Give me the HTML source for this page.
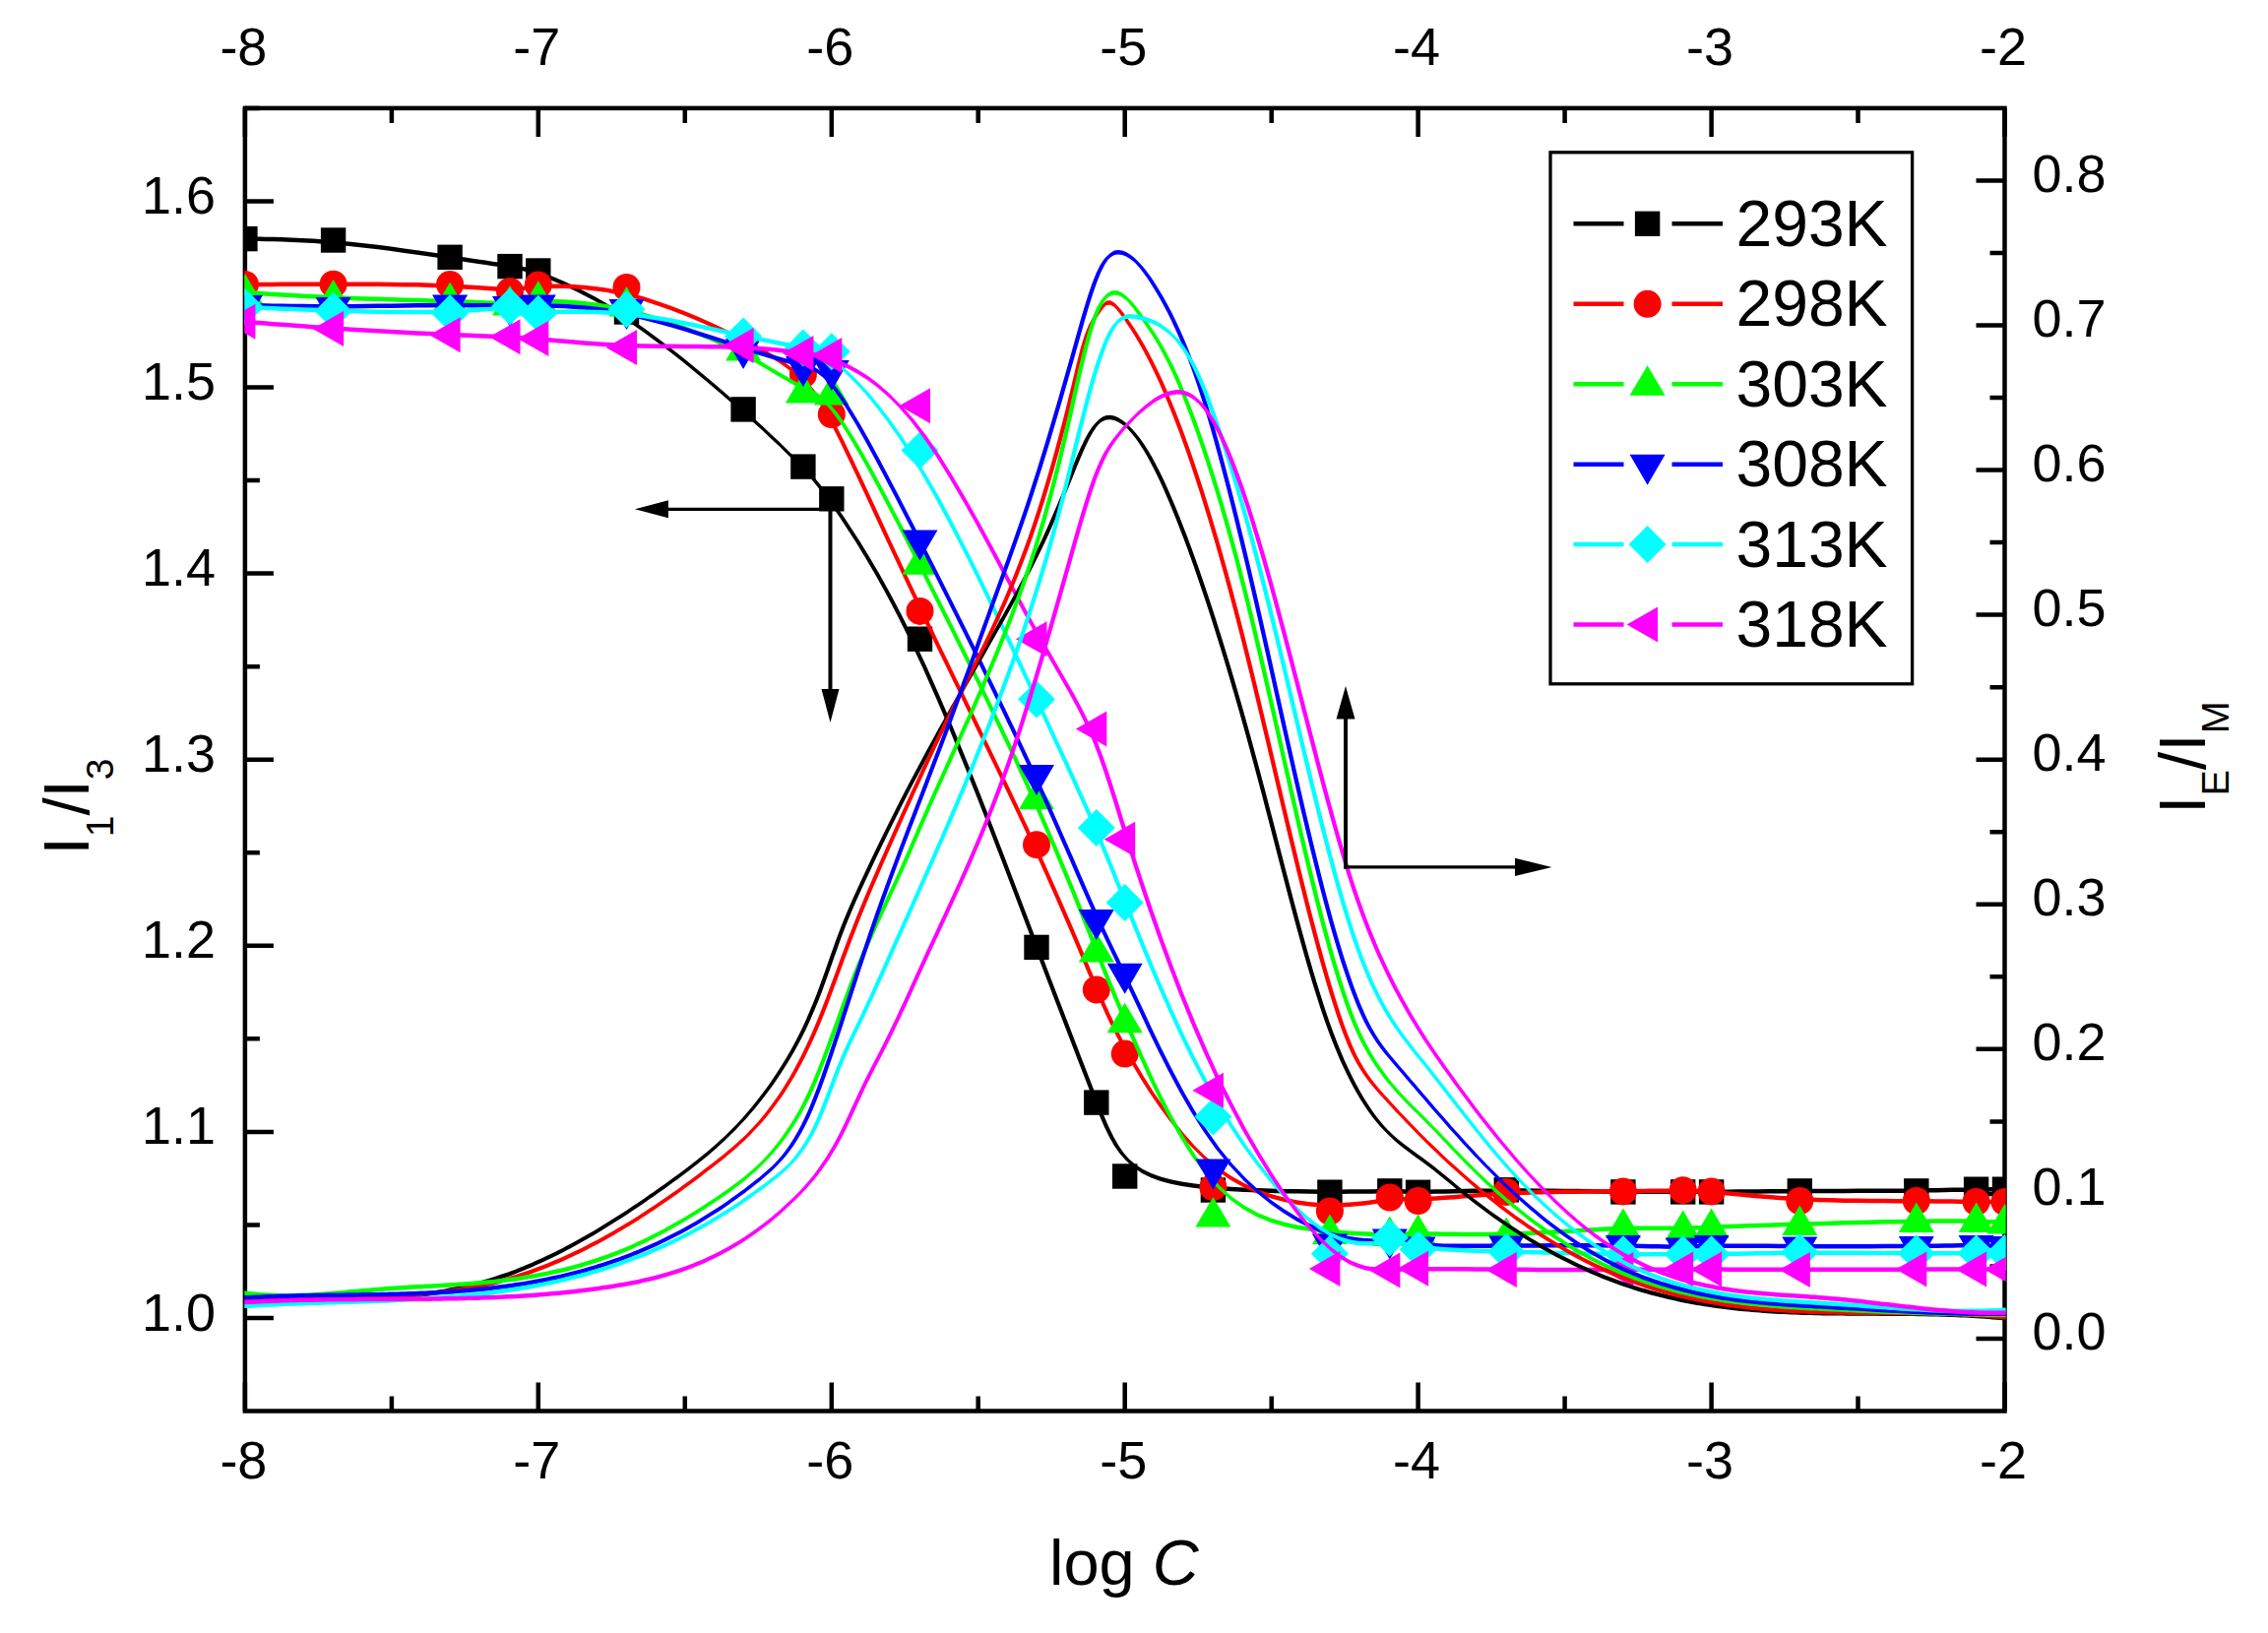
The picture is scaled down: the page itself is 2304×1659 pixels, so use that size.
<!DOCTYPE html>
<html lang="en"><head><meta charset="utf-8"><title>I1/I3 and IE/IM vs log C</title>
<style>html,body{margin:0;padding:0;background:#fff}svg{display:block}text{font-family:"Liberation Sans",sans-serif;fill:#000}</style></head><body>
<svg width="2304" height="1659" viewBox="0 0 2304 1659">
<rect width="2304" height="1659" fill="#fff"/>
<defs><clipPath id="pc"><rect x="248.3" y="109.9" width="1789.4" height="1323.6"/></clipPath></defs>
<path d="M248.9 109.9 v29 M248.9 1433.5 v-29 M397.9 109.9 v15 M397.9 1433.5 v-15 M546.8 109.9 v29 M546.8 1433.5 v-29 M695.8 109.9 v15 M695.8 1433.5 v-15 M844.8 109.9 v29 M844.8 1433.5 v-29 M993.7 109.9 v15 M993.7 1433.5 v-15 M1142.7 109.9 v29 M1142.7 1433.5 v-29 M1291.7 109.9 v15 M1291.7 1433.5 v-15 M1440.6 109.9 v29 M1440.6 1433.5 v-29 M1589.6 109.9 v15 M1589.6 1433.5 v-15 M1738.6 109.9 v29 M1738.6 1433.5 v-29 M1887.5 109.9 v15 M1887.5 1433.5 v-15 M2036.5 109.9 v29 M2036.5 1433.5 v-29 M248.9 1339 h29 M248.9 1244.4 h15 M248.9 1149.9 h29 M248.9 1055.3 h15 M248.9 960.8 h29 M248.9 866.2 h15 M248.9 771.7 h29 M248.9 677.2 h15 M248.9 582.6 h29 M248.9 488.1 h15 M248.9 393.5 h29 M248.9 299 h15 M248.9 204.4 h29 M248.9 109.9 h15 M2036.5 1360 h-29 M2036.5 1286.4 h-15 M2036.5 1212.9 h-29 M2036.5 1139.4 h-15 M2036.5 1065.8 h-29 M2036.5 992.3 h-15 M2036.5 918.8 h-29 M2036.5 845.2 h-15 M2036.5 771.7 h-29 M2036.5 698.2 h-15 M2036.5 624.6 h-29 M2036.5 551.1 h-15 M2036.5 477.6 h-29 M2036.5 404 h-15 M2036.5 330.5 h-29 M2036.5 257 h-15 M2036.5 183.4 h-29" stroke="#000" stroke-width="4.5" fill="none"/>
<rect x="248.9" y="109.9" width="1787.6" height="1323.6" stroke="#000" stroke-width="4.5" fill="none"/>
<g clip-path="url(#pc)" fill="none" stroke-linejoin="round" stroke-linecap="butt">
<path d="M248.9 240.3 248.9 240.4 249.1 240.4 249.7 240.4 250.8 240.4 252.5 240.4 255.2 240.4 258.9 240.5 263.8 240.6 270.1 240.7 277.7 240.8 286.4 241.1 296.2 241.4 306.9 241.9 318.4 242.5 330.6 243.4 343.4 244.4 356.6 245.7 370.1 247.2 383.7 248.8 397.3 250.6 410.6 252.4 423.5 254.2 435.9 256 447.5 257.7 458.3 259.3 468.2 260.8 477.3 262.2 485.7 263.4 493.3 264.6 500.4 265.7 506.8 266.6 512.6 267.5 518 268.4 523.1 269.2 528 270.1 533 271.2 538.2 272.6 543.8 274.3 550 276.4 557 279 564.8 282.2 573.6 286 583.2 290.5 593.5 295.7 604.6 301.6 616.3 308.3 628.6 315.9 641.3 324.2 654.5 333.5 668 343.4 681.6 353.8 695.2 364.5 708.5 375.4 721.5 386.2 733.8 396.8 745.5 406.9 756.2 416.4 766.1 425.3 775.3 433.6 783.6 441.4 791.3 448.6 798.3 455.4 804.7 461.7 810.6 467.6 810.6 472.1 804.7 466.2 798.3 459.9 791.3 453.1 783.6 445.9 775.3 438.1 766.1 429.8 756.2 420.9 745.5 411.4 733.8 401.3 721.5 390.7 708.5 379.9 695.2 369 681.6 358.3 668 347.9 654.5 338 641.3 328.7 628.6 320.4 616.3 312.8 604.6 306.1 593.5 300.2 583.2 295 573.6 290.5 564.8 286.7 557 283.5 550 280.9 543.8 278.8 538.2 277.1 533 275.7 528 274.6 523.1 273.7 518 272.9 512.6 272 506.8 271.1 500.4 270.2 493.3 269.1 485.7 267.9 477.3 266.7 468.2 265.3 458.3 263.8 447.5 262.2 435.9 260.5 423.5 258.7 410.6 256.9 397.3 255.1 383.7 253.3 370.1 251.7 356.6 250.2 343.4 248.9 330.6 247.9 318.4 247 306.9 246.4 296.2 245.9 286.4 245.6 277.7 245.3 270.1 245.2 263.8 245.1 258.9 245 255.2 244.9 252.5 244.9 250.8 244.9 249.7 244.9 249.1 244.9 248.9 244.9 248.9 244.8ZM800.5 457.7 807 464 812.8 469.9 818.2 475.4 823.3 480.8 828.2 486.3 833.2 492.2 838.4 498.8 844 506.3 850.2 515 857.2 525.1 865 536.9 873.8 550.6 883.4 566.2 893.7 583.8 904.8 603.7 916.5 625.9 928.7 650.5 941.5 677.7 954.7 707.4 968.2 739.1 981.8 772.2 995.4 806.1 1008.7 840.1 1021.6 873.6 1034 905.9 1045.6 936.5 1056.4 964.7 1066.3 990.7 1075.4 1014.5 1083.8 1036.3 1091.5 1056.2 1098.5 1074.4 1104.9 1091.1 1110.8 1106.3 1116.1 1120.2 1121.2 1132.8 1126.1 1144.3 1131.1 1154.6 1136.3 1163.7 1141.9 1171.8 1148.1 1178.8 1155.1 1184.8 1150.6 1184.8 1143.6 1178.8 1137.4 1171.8 1131.8 1163.7 1126.6 1154.6 1121.6 1144.3 1116.7 1132.8 1111.6 1120.2 1106.3 1106.3 1100.4 1091.1 1094 1074.4 1087 1056.2 1079.3 1036.3 1070.9 1014.5 1061.8 990.7 1051.9 964.7 1041.1 936.5 1029.5 905.9 1017.1 873.6 1004.2 840.1 990.9 806.1 977.3 772.2 963.7 739.1 950.2 707.4 937 677.7 924.2 650.5 912 625.9 900.3 603.7 889.2 583.8 878.9 566.2 869.3 550.6 860.5 536.9 852.7 525.1 845.7 515 839.5 506.3 833.9 498.8 828.7 492.2 823.7 486.3 818.8 480.8 813.7 475.4 808.3 469.9 802.5 464 796 457.7ZM1139.7 1169.5 1145.9 1176.6 1152.8 1182.6 1160.7 1187.7 1169.5 1191.9 1179.1 1195.4 1189.4 1198.2 1200.5 1200.5 1212.2 1202.3 1224.4 1203.7 1237.2 1204.8 1250.4 1205.7 1263.9 1206.5 1277.5 1207.1 1291.1 1207.5 1304.4 1207.9 1317.3 1208.1 1329.7 1208.3 1341.3 1208.4 1352.1 1208.4 1362 1208.4 1371.1 1208.3 1379.5 1208.3 1387.1 1208.2 1394.2 1208.2 1400.6 1208.1 1406.4 1208.1 1411.8 1208.1 1416.9 1208.2 1421.8 1208.3 1426.8 1208.3 1432 1208.4 1437.6 1208.4 1443.8 1208.4 1450.8 1208.4 1458.6 1208.3 1467.4 1208.2 1477 1208 1487.3 1207.8 1498.4 1207.6 1510.1 1207.5 1522.4 1207.4 1535.1 1207.3 1548.3 1207.3 1561.8 1207.4 1575.4 1207.5 1589 1207.7 1602.3 1207.8 1615.3 1208 1627.6 1208.2 1639.3 1208.3 1650 1208.4 1659.9 1208.5 1669.1 1208.6 1677.4 1208.6 1685.1 1208.6 1692.1 1208.6 1698.5 1208.6 1704.4 1208.6 1709.8 1208.6 1714.8 1208.6 1719.8 1208.6 1724.7 1208.6 1729.9 1208.6 1735.5 1208.6 1741.7 1208.5 1748.7 1208.5 1756.6 1208.4 1765.3 1208.3 1774.9 1208.2 1785.3 1208.2 1796.3 1208.1 1808 1208 1820.3 1207.9 1833.1 1207.8 1846.3 1207.8 1859.8 1207.7 1873.4 1207.7 1886.9 1207.6 1900.3 1207.6 1913.2 1207.5 1925.6 1207.5 1937.2 1207.4 1948 1207.2 1957.9 1207.1 1967 1207 1975.4 1206.8 1983 1206.6 1990 1206.5 1996.4 1206.4 2002.3 1206.2 2007.7 1206.1 2012.5 1206.1 2016.9 1206 2020.8 1206 2024.2 1206 2027.2 1206 2029.7 1206 2031.7 1206 2033.3 1206 2034.5 1206 2035.3 1206 2035.9 1206 2036.2 1206 2036.4 1205.9 2036.5 1205.9 2036.5 1206 2036.5 1210.5 2036.5 1210.4 2036.4 1210.4 2036.2 1210.5 2035.9 1210.5 2035.3 1210.5 2034.5 1210.5 2033.3 1210.5 2031.7 1210.5 2029.7 1210.5 2027.2 1210.5 2024.2 1210.5 2020.8 1210.5 2016.9 1210.5 2012.5 1210.6 2007.7 1210.6 2002.3 1210.7 1996.4 1210.9 1990 1211 1983 1211.1 1975.4 1211.3 1967 1211.5 1957.9 1211.6 1948 1211.7 1937.2 1211.9 1925.6 1212 1913.2 1212 1900.3 1212.1 1886.9 1212.1 1873.4 1212.2 1859.8 1212.2 1846.3 1212.3 1833.1 1212.3 1820.3 1212.4 1808 1212.5 1796.3 1212.6 1785.3 1212.7 1774.9 1212.7 1765.3 1212.8 1756.6 1212.9 1748.7 1213 1741.7 1213 1735.5 1213.1 1729.9 1213.1 1724.7 1213.1 1719.8 1213.1 1714.8 1213.1 1709.8 1213.1 1704.4 1213.1 1698.5 1213.1 1692.1 1213.1 1685.1 1213.1 1677.4 1213.1 1669.1 1213.1 1659.9 1213 1650 1212.9 1639.3 1212.8 1627.6 1212.7 1615.3 1212.5 1602.3 1212.3 1589 1212.2 1575.4 1212 1561.8 1211.9 1548.3 1211.8 1535.1 1211.8 1522.4 1211.9 1510.1 1212 1498.4 1212.1 1487.3 1212.3 1477 1212.5 1467.4 1212.7 1458.6 1212.8 1450.8 1212.9 1443.8 1212.9 1437.6 1212.9 1432 1212.9 1426.8 1212.8 1421.8 1212.8 1416.9 1212.7 1411.8 1212.6 1406.4 1212.6 1400.6 1212.6 1394.2 1212.7 1387.1 1212.7 1379.5 1212.8 1371.1 1212.8 1362 1212.9 1352.1 1212.9 1341.3 1212.9 1329.7 1212.8 1317.3 1212.6 1304.4 1212.4 1291.1 1212 1277.5 1211.6 1263.9 1211 1250.4 1210.2 1237.2 1209.3 1224.4 1208.2 1212.2 1206.8 1200.5 1205 1189.4 1202.7 1179.1 1199.9 1169.5 1196.4 1160.7 1192.2 1152.8 1187.1 1145.9 1181.1 1139.7 1174Z" fill="#000000" stroke="none"/>
<g stroke="none">
<rect x="236.2" y="229.9" width="25.4" height="25.4" fill="#000000"/>
<rect x="325.9" y="231.3" width="25.4" height="25.4" fill="#000000"/>
<rect x="444.4" y="248.6" width="25.4" height="25.4" fill="#000000"/>
<rect x="505.3" y="257.9" width="25.4" height="25.4" fill="#000000"/>
<rect x="534.1" y="262.3" width="25.4" height="25.4" fill="#000000"/>
<rect x="623.8" y="304.3" width="25.4" height="25.4" fill="#000000"/>
<rect x="742.4" y="403.2" width="25.4" height="25.4" fill="#000000"/>
<rect x="803.2" y="461.4" width="25.4" height="25.4" fill="#000000"/>
<rect x="832.1" y="494.1" width="25.4" height="25.4" fill="#000000"/>
<rect x="921.8" y="636.5" width="25.4" height="25.4" fill="#000000"/>
<rect x="1040.3" y="949.7" width="25.4" height="25.4" fill="#000000"/>
<rect x="1101.1" y="1107.4" width="25.4" height="25.4" fill="#000000"/>
<rect x="1130" y="1182.3" width="25.4" height="25.4" fill="#000000"/>
<rect x="1219.7" y="1196.3" width="25.4" height="25.4" fill="#000000"/>
<rect x="1338.2" y="1198.5" width="25.4" height="25.4" fill="#000000"/>
<rect x="1399.1" y="1197.2" width="25.4" height="25.4" fill="#000000"/>
<rect x="1427.9" y="1198.6" width="25.4" height="25.4" fill="#000000"/>
<rect x="1517.6" y="1196.1" width="25.4" height="25.4" fill="#000000"/>
<rect x="1636.2" y="1198.2" width="25.4" height="25.4" fill="#000000"/>
<rect x="1697" y="1198.2" width="25.4" height="25.4" fill="#000000"/>
<rect x="1725.9" y="1198.2" width="25.4" height="25.4" fill="#000000"/>
<rect x="1815.6" y="1197.2" width="25.4" height="25.4" fill="#000000"/>
<rect x="1934.1" y="1197.2" width="25.4" height="25.4" fill="#000000"/>
<rect x="1994.9" y="1195.5" width="25.4" height="25.4" fill="#000000"/>
<rect x="2023.8" y="1195.5" width="25.4" height="25.4" fill="#000000"/>
</g>
<path d="M248.9 286.8 248.9 286.7 249.1 286.7 249.7 286.7 250.8 286.7 252.5 286.7 255.2 286.7 258.9 286.7 263.8 286.7 270.1 286.7 277.7 286.7 286.4 286.6 296.2 286.6 306.9 286.6 318.4 286.6 330.6 286.6 343.4 286.5 356.6 286.6 370.1 286.6 383.7 286.6 397.3 286.8 410.6 286.9 423.5 287.1 435.9 287.5 447.5 287.9 458.3 288.4 468.2 288.9 477.3 289.5 485.7 290.1 493.3 290.6 500.4 291.1 506.8 291.4 512.6 291.5 518 291.4 523.1 291.2 528 290.8 533 290.4 538.2 289.9 543.8 289.5 550 289.1 557 288.8 564.8 288.6 573.6 288.6 583.2 289 593.5 289.7 604.6 290.9 616.3 292.6 628.6 294.9 641.3 297.8 654.5 301.5 668 305.9 681.6 310.7 695.2 316 708.5 321.5 721.5 327.2 733.8 332.9 745.5 338.5 756.2 343.9 766.1 349.2 775.3 354.2 783.6 359.2 791.3 364.1 798.3 369 804.7 373.8 810.6 378.7 816 383.6 821 388.9 821 393.4 816 388.1 810.6 383.2 804.7 378.3 798.3 373.5 791.3 368.6 783.6 363.7 775.3 358.7 766.1 353.7 756.2 348.4 745.5 343 733.8 337.4 721.5 331.7 708.5 326 695.2 320.5 681.6 315.2 668 310.4 654.5 306 641.3 302.3 628.6 299.4 616.3 297.1 604.6 295.4 593.5 294.2 583.2 293.5 573.6 293.1 564.8 293.1 557 293.2 550 293.6 543.8 294 538.2 294.4 533 294.9 528 295.3 523.1 295.7 518 295.9 512.6 296 506.8 295.9 500.4 295.6 493.3 295.1 485.7 294.6 477.3 294 468.2 293.4 458.3 292.9 447.5 292.4 435.9 292 423.5 291.6 410.6 291.4 397.3 291.3 383.7 291.1 370.1 291.1 356.6 291.1 343.4 291 330.6 291.1 318.4 291.1 306.9 291.1 296.2 291.1 286.4 291.1 277.7 291.2 270.1 291.2 263.8 291.2 258.9 291.2 255.2 291.2 252.5 291.2 250.8 291.2 249.7 291.2 249.1 291.2 248.9 291.2 248.9 291.2ZM812.8 380.9 818.2 385.9 823.3 391.2 828.2 397.2 833.2 404.1 838.4 412.3 844 422.1 850.2 433.7 857.2 447.5 865 463.8 873.8 482.3 883.4 502.8 893.7 525 904.8 548.9 916.5 574 928.7 600.1 941.5 627.1 954.7 654.7 968.2 682.6 981.8 710.6 995.4 738.5 1008.7 765.9 1021.6 792.6 1034 818.5 1045.6 843.2 1056.4 866.5 1066.3 888.5 1075.4 909 1083.8 928.2 1091.5 946.1 1098.5 962.6 1104.9 977.8 1110.8 991.7 1116.1 1004.4 1121.2 1016.1 1126.1 1027.1 1131.1 1037.8 1136.3 1048.3 1141.9 1059 1148.1 1070.3 1155.1 1082.3 1163 1095.4 1171.7 1109.2 1181.3 1123.3 1191.7 1137.5 1202.7 1151.4 1214.4 1164.7 1226.7 1176.8 1222.2 1176.8 1209.9 1164.7 1198.2 1151.4 1187.2 1137.5 1176.8 1123.3 1167.2 1109.2 1158.5 1095.4 1150.6 1082.3 1143.6 1070.3 1137.4 1059 1131.8 1048.3 1126.6 1037.8 1121.6 1027.1 1116.7 1016.1 1111.6 1004.4 1106.3 991.7 1100.4 977.8 1094 962.6 1087 946.1 1079.3 928.2 1070.9 909 1061.8 888.5 1051.9 866.5 1041.1 843.2 1029.5 818.5 1017.1 792.6 1004.2 765.9 990.9 738.5 977.3 710.6 963.7 682.6 950.2 654.7 937 627.1 924.2 600.1 912 574 900.3 548.9 889.2 525 878.9 502.8 869.3 482.3 860.5 463.8 852.7 447.5 845.7 433.7 839.5 422.1 833.9 412.3 828.7 404.1 823.7 397.2 818.8 391.2 813.7 385.9 808.3 380.9ZM1200.5 1149.2 1212.2 1162.4 1224.4 1174.6 1237.2 1185.4 1250.4 1194.5 1263.9 1202.1 1277.5 1208.2 1291.1 1213 1304.4 1216.6 1317.3 1219.2 1329.7 1220.9 1341.3 1221.9 1352.1 1222.2 1362 1222.1 1371.1 1221.6 1379.5 1220.8 1387.1 1219.9 1394.2 1218.9 1400.6 1217.9 1406.4 1217.2 1411.8 1216.6 1416.9 1216.3 1421.8 1216.2 1426.8 1216.1 1432 1216.1 1437.6 1216 1443.8 1215.9 1450.8 1215.6 1458.6 1215.2 1467.4 1214.6 1477 1213.9 1487.3 1213.1 1498.4 1212.3 1510.1 1211.5 1522.4 1210.7 1535.1 1210.1 1548.3 1209.5 1561.8 1209.1 1575.4 1208.8 1589 1208.6 1602.3 1208.4 1615.3 1208.2 1627.6 1208.1 1639.3 1208 1650 1207.9 1659.9 1207.8 1669.1 1207.7 1677.4 1207.6 1685.1 1207.5 1692.1 1207.4 1698.5 1207.4 1704.4 1207.3 1709.8 1207.4 1714.8 1207.4 1719.8 1207.6 1724.7 1207.8 1729.9 1208.1 1735.5 1208.4 1741.7 1208.9 1748.7 1209.5 1756.6 1210.3 1765.3 1211.1 1774.9 1212 1785.3 1212.9 1796.3 1213.8 1808 1214.7 1820.3 1215.5 1833.1 1216.1 1846.3 1216.7 1859.8 1217.1 1873.4 1217.4 1886.9 1217.6 1900.3 1217.7 1913.2 1217.8 1925.6 1217.9 1937.2 1217.9 1948 1218 1957.9 1218.1 1967 1218.2 1975.4 1218.2 1983 1218.3 1990 1218.4 1996.4 1218.5 2002.3 1218.6 2007.7 1218.6 2012.5 1218.7 2016.9 1218.7 2020.8 1218.7 2024.2 1218.7 2027.2 1218.7 2029.7 1218.7 2031.7 1218.8 2033.3 1218.8 2034.5 1218.8 2035.3 1218.8 2035.9 1218.8 2036.2 1218.8 2036.4 1218.8 2036.5 1218.8 2036.5 1218.8 2036.5 1223.2 2036.5 1223.2 2036.4 1223.2 2036.2 1223.2 2035.9 1223.2 2035.3 1223.2 2034.5 1223.2 2033.3 1223.2 2031.7 1223.2 2029.7 1223.2 2027.2 1223.2 2024.2 1223.2 2020.8 1223.2 2016.9 1223.2 2012.5 1223.2 2007.7 1223.1 2002.3 1223.1 1996.4 1223 1990 1222.9 1983 1222.8 1975.4 1222.8 1967 1222.7 1957.9 1222.6 1948 1222.5 1937.2 1222.4 1925.6 1222.4 1913.2 1222.3 1900.3 1222.2 1886.9 1222.1 1873.4 1221.9 1859.8 1221.6 1846.3 1221.2 1833.1 1220.6 1820.3 1220 1808 1219.2 1796.3 1218.3 1785.3 1217.4 1774.9 1216.5 1765.3 1215.6 1756.6 1214.8 1748.7 1214 1741.7 1213.4 1735.5 1212.9 1729.9 1212.6 1724.7 1212.3 1719.8 1212.1 1714.8 1211.9 1709.8 1211.9 1704.4 1211.8 1698.5 1211.9 1692.1 1211.9 1685.1 1212 1677.4 1212.1 1669.1 1212.2 1659.9 1212.3 1650 1212.4 1639.3 1212.5 1627.6 1212.6 1615.3 1212.7 1602.3 1212.9 1589 1213.1 1575.4 1213.3 1561.8 1213.6 1548.3 1214 1535.1 1214.6 1522.4 1215.2 1510.1 1216 1498.4 1216.8 1487.3 1217.6 1477 1218.4 1467.4 1219.1 1458.6 1219.7 1450.8 1220.1 1443.8 1220.4 1437.6 1220.5 1432 1220.6 1426.8 1220.6 1421.8 1220.7 1416.9 1220.8 1411.8 1221.1 1406.4 1221.7 1400.6 1222.4 1394.2 1223.4 1387.1 1224.4 1379.5 1225.3 1371.1 1226.1 1362 1226.6 1352.1 1226.7 1341.3 1226.4 1329.7 1225.4 1317.3 1223.7 1304.4 1221.1 1291.1 1217.5 1277.5 1212.7 1263.9 1206.6 1250.4 1199 1237.2 1189.9 1224.4 1179.1 1212.2 1166.9 1200.5 1153.7Z" fill="#ff0000" stroke="none"/>
<g stroke="none">
<circle cx="248.9" cy="289" r="14" fill="#ff0000"/>
<circle cx="338.6" cy="288.7" r="14" fill="#ff0000"/>
<circle cx="457.1" cy="289" r="14" fill="#ff0000"/>
<circle cx="518" cy="296" r="14" fill="#ff0000"/>
<circle cx="546.8" cy="289.5" r="14" fill="#ff0000"/>
<circle cx="636.5" cy="292" r="14" fill="#ff0000"/>
<circle cx="755.1" cy="343" r="14" fill="#ff0000"/>
<circle cx="815.9" cy="380.4" r="14" fill="#ff0000"/>
<circle cx="844.8" cy="421" r="14" fill="#ff0000"/>
<circle cx="934.5" cy="620.9" r="14" fill="#ff0000"/>
<circle cx="1053" cy="858.2" r="14" fill="#ff0000"/>
<circle cx="1113.8" cy="1005.4" r="14" fill="#ff0000"/>
<circle cx="1142.7" cy="1070.6" r="14" fill="#ff0000"/>
<circle cx="1232.4" cy="1206.2" r="14" fill="#ff0000"/>
<circle cx="1350.9" cy="1230.5" r="14" fill="#ff0000"/>
<circle cx="1411.8" cy="1216.5" r="14" fill="#ff0000"/>
<circle cx="1440.6" cy="1220" r="14" fill="#ff0000"/>
<circle cx="1530.3" cy="1210.9" r="14" fill="#ff0000"/>
<circle cx="1648.9" cy="1210.4" r="14" fill="#ff0000"/>
<circle cx="1709.7" cy="1209.2" r="14" fill="#ff0000"/>
<circle cx="1738.6" cy="1210.4" r="14" fill="#ff0000"/>
<circle cx="1828.3" cy="1220" r="14" fill="#ff0000"/>
<circle cx="1946.8" cy="1220" r="14" fill="#ff0000"/>
<circle cx="2007.6" cy="1221" r="14" fill="#ff0000"/>
<circle cx="2036.5" cy="1221" r="14" fill="#ff0000"/>
</g>
<path d="M248.9 294.8 248.9 294.8 249.1 294.8 249.7 294.8 250.8 294.9 252.5 295 255.2 295.2 258.9 295.4 263.8 295.8 270.1 296.2 277.7 296.7 286.4 297.2 296.2 297.8 306.9 298.4 318.4 299 330.6 299.6 343.4 300.2 356.6 300.7 370.1 301.2 383.7 301.6 397.3 302 410.6 302.4 423.5 302.8 435.9 303.2 447.5 303.5 458.3 303.9 468.2 304.3 477.3 304.6 485.7 304.9 493.3 305.2 500.4 305.4 506.8 305.4 512.6 305.4 518 305.3 523.1 305 528 304.8 533 304.4 538.2 304.2 543.8 303.9 550 303.8 557 303.8 564.8 303.9 573.6 304.3 583.2 305 593.5 305.9 604.6 307.3 616.3 309.1 628.6 311.4 641.3 314.3 654.5 317.8 668 321.8 681.6 326.2 695.2 331 708.5 336.1 721.5 341.5 733.8 346.9 745.5 352.4 756.2 357.9 766.1 363.3 775.3 368.4 783.6 373.4 791.3 377.9 798.3 382.1 804.7 385.8 810.6 388.9 816 391.5 821 393.8 826 396.3 830.9 399.4 836.1 403.6 841.7 409.1 847.9 416.5 847.9 421 841.7 413.6 836.1 408.1 830.9 403.9 826 400.8 821 398.3 816 396 810.6 393.4 804.7 390.3 798.3 386.6 791.3 382.4 783.6 377.9 775.3 372.9 766.1 367.8 756.2 362.4 745.5 356.9 733.8 351.4 721.5 346 708.5 340.6 695.2 335.5 681.6 330.7 668 326.3 654.5 322.3 641.3 318.8 628.6 315.9 616.3 313.6 604.6 311.8 593.5 310.4 583.2 309.5 573.6 308.8 564.8 308.4 557 308.3 550 308.3 543.8 308.4 538.2 308.7 533 308.9 528 309.3 523.1 309.5 518 309.8 512.6 309.9 506.8 309.9 500.4 309.9 493.3 309.7 485.7 309.4 477.3 309.1 468.2 308.8 458.3 308.4 447.5 308 435.9 307.7 423.5 307.3 410.6 306.9 397.3 306.5 383.7 306.1 370.1 305.7 356.6 305.2 343.4 304.7 330.6 304.1 318.4 303.5 306.9 302.9 296.2 302.3 286.4 301.7 277.7 301.2 270.1 300.7 263.8 300.2 258.9 299.9 255.2 299.7 252.5 299.5 250.8 299.4 249.7 299.3 249.1 299.3 248.9 299.3 248.9 299.2ZM838.4 405.8 844 411.4 850.2 418.8 857.2 428.4 865 440.6 873.8 455.2 883.4 472.1 893.7 491.1 904.8 511.9 916.5 534.3 928.7 558.2 941.5 583.3 954.7 609.5 968.2 636.3 981.8 663.7 995.4 691.1 1008.7 718.5 1021.6 745.4 1034 771.6 1045.6 796.9 1056.4 820.8 1066.3 843.5 1075.4 864.8 1083.8 884.9 1091.5 903.6 1098.5 921.1 1104.9 937.2 1110.8 952.1 1116.1 965.7 1121.2 978.4 1126.1 990.6 1131.1 1002.7 1136.3 1015.2 1141.9 1028.4 1148.1 1042.7 1155.1 1058.6 1163 1076.3 1171.7 1095.4 1181.3 1115.2 1191.7 1135.2 1202.7 1154.8 1214.4 1173.4 1226.7 1190.3 1239.4 1205 1252.7 1217.1 1248.2 1217.1 1234.9 1205 1222.2 1190.3 1209.9 1173.4 1198.2 1154.8 1187.2 1135.2 1176.8 1115.2 1167.2 1095.4 1158.5 1076.3 1150.6 1058.6 1143.6 1042.7 1137.4 1028.4 1131.8 1015.2 1126.6 1002.7 1121.6 990.6 1116.7 978.4 1111.6 965.7 1106.3 952.1 1100.4 937.2 1094 921.1 1087 903.6 1079.3 884.9 1070.9 864.8 1061.8 843.5 1051.9 820.8 1041.1 796.9 1029.5 771.6 1017.1 745.4 1004.2 718.5 990.9 691.1 977.3 663.7 963.7 636.3 950.2 609.5 937 583.3 924.2 558.2 912 534.3 900.3 511.9 889.2 491.1 878.9 472.1 869.3 455.2 860.5 440.6 852.7 428.4 845.7 418.8 839.5 411.4 833.9 405.8ZM1224.4 1188.1 1237.2 1202.8 1250.4 1214.9 1263.9 1224.5 1277.5 1231.9 1291.1 1237.5 1304.4 1241.5 1317.3 1244.4 1329.7 1246.3 1341.3 1247.7 1352.1 1248.9 1362 1249.7 1371.1 1250.4 1379.5 1250.9 1387.1 1251.3 1394.2 1251.5 1400.6 1251.6 1406.4 1251.7 1411.8 1251.7 1416.9 1251.6 1421.8 1251.5 1426.8 1251.4 1432 1251.3 1437.6 1251.2 1443.8 1251.1 1450.8 1251.2 1458.6 1251.3 1467.4 1251.4 1477 1251.5 1487.3 1251.7 1498.4 1251.7 1510.1 1251.7 1522.4 1251.6 1535.1 1251.3 1548.3 1250.8 1561.8 1250.2 1575.4 1249.5 1589 1248.7 1602.3 1248 1615.3 1247.2 1627.6 1246.6 1639.3 1246.1 1650 1245.7 1659.9 1245.5 1669.1 1245.4 1677.4 1245.4 1685.1 1245.4 1692.1 1245.5 1698.5 1245.6 1704.4 1245.6 1709.8 1245.6 1714.8 1245.5 1719.8 1245.3 1724.7 1245.1 1729.9 1244.9 1735.5 1244.7 1741.7 1244.4 1748.7 1244.1 1756.6 1243.8 1765.3 1243.4 1774.9 1243.1 1785.3 1242.7 1796.3 1242.4 1808 1242 1820.3 1241.6 1833.1 1241.2 1846.3 1240.9 1859.8 1240.5 1873.4 1240.1 1886.9 1239.8 1900.3 1239.4 1913.2 1239.1 1925.6 1238.9 1937.2 1238.7 1948 1238.5 1957.9 1238.4 1967 1238.3 1975.4 1238.2 1983 1238.2 1990 1238.3 1996.4 1238.3 2002.3 1238.4 2007.7 1238.5 2012.5 1238.7 2016.9 1238.8 2020.8 1239 2024.2 1239.1 2027.2 1239.2 2029.7 1239.4 2031.7 1239.5 2033.3 1239.6 2034.5 1239.6 2035.3 1239.7 2035.9 1239.7 2036.2 1239.7 2036.4 1239.7 2036.5 1239.7 2036.5 1239.8 2036.5 1244.2 2036.5 1244.2 2036.4 1244.2 2036.2 1244.2 2035.9 1244.2 2035.3 1244.2 2034.5 1244.1 2033.3 1244.1 2031.7 1244 2029.7 1243.9 2027.2 1243.7 2024.2 1243.6 2020.8 1243.5 2016.9 1243.3 2012.5 1243.2 2007.7 1243 2002.3 1242.9 1996.4 1242.8 1990 1242.8 1983 1242.7 1975.4 1242.7 1967 1242.8 1957.9 1242.9 1948 1243 1937.2 1243.2 1925.6 1243.4 1913.2 1243.6 1900.3 1243.9 1886.9 1244.3 1873.4 1244.6 1859.8 1245 1846.3 1245.4 1833.1 1245.7 1820.3 1246.1 1808 1246.5 1796.3 1246.9 1785.3 1247.2 1774.9 1247.6 1765.3 1247.9 1756.6 1248.3 1748.7 1248.6 1741.7 1248.9 1735.5 1249.2 1729.9 1249.4 1724.7 1249.6 1719.8 1249.8 1714.8 1250 1709.8 1250.1 1704.4 1250.1 1698.5 1250.1 1692.1 1250 1685.1 1249.9 1677.4 1249.9 1669.1 1249.9 1659.9 1250 1650 1250.2 1639.3 1250.6 1627.6 1251.1 1615.3 1251.7 1602.3 1252.5 1589 1253.2 1575.4 1254 1561.8 1254.7 1548.3 1255.3 1535.1 1255.8 1522.4 1256.1 1510.1 1256.2 1498.4 1256.2 1487.3 1256.2 1477 1256 1467.4 1255.9 1458.6 1255.8 1450.8 1255.7 1443.8 1255.6 1437.6 1255.7 1432 1255.8 1426.8 1255.9 1421.8 1256 1416.9 1256.1 1411.8 1256.2 1406.4 1256.2 1400.6 1256.1 1394.2 1256 1387.1 1255.8 1379.5 1255.4 1371.1 1254.9 1362 1254.2 1352.1 1253.4 1341.3 1252.2 1329.7 1250.8 1317.3 1248.9 1304.4 1246 1291.1 1242 1277.5 1236.4 1263.9 1229 1250.4 1219.4 1237.2 1207.3 1224.4 1192.6Z" fill="#00ff00" stroke="none"/>
<g stroke="none">
<polygon points="248.9,278 266.9,308.5 230.9,308.5" fill="#00ff00"/>
<polygon points="338.6,284 356.6,314.5 320.6,314.5" fill="#00ff00"/>
<polygon points="457.1,286.7 475.1,317.2 439.1,317.2" fill="#00ff00"/>
<polygon points="518,290 536,320.5 500,320.5" fill="#00ff00"/>
<polygon points="546.8,285.3 564.8,315.8 528.8,315.8" fill="#00ff00"/>
<polygon points="636.5,291 654.5,321.5 618.5,321.5" fill="#00ff00"/>
<polygon points="755.1,336 773.1,366.5 737.1,366.5" fill="#00ff00"/>
<polygon points="815.9,379 833.9,409.5 797.9,409.5" fill="#00ff00"/>
<polygon points="844.8,381 862.8,411.5 826.8,411.5" fill="#00ff00"/>
<polygon points="934.5,553.3 952.5,583.8 916.5,583.8" fill="#00ff00"/>
<polygon points="1053,791.7 1071,822.2 1035,822.2" fill="#00ff00"/>
<polygon points="1113.8,947 1131.8,977.5 1095.8,977.5" fill="#00ff00"/>
<polygon points="1142.7,1018.7 1160.7,1049.2 1124.7,1049.2" fill="#00ff00"/>
<polygon points="1232.4,1216 1250.4,1246.5 1214.4,1246.5" fill="#00ff00"/>
<polygon points="1350.9,1233.6 1368.9,1264.1 1332.9,1264.1" fill="#00ff00"/>
<polygon points="1411.8,1235.6 1429.8,1266.1 1393.8,1266.1" fill="#00ff00"/>
<polygon points="1440.6,1233.6 1458.6,1264.1 1422.6,1264.1" fill="#00ff00"/>
<polygon points="1530.3,1236.5 1548.3,1267 1512.3,1267" fill="#00ff00"/>
<polygon points="1648.9,1227.5 1666.9,1258 1630.9,1258" fill="#00ff00"/>
<polygon points="1709.7,1229.5 1727.7,1260 1691.7,1260" fill="#00ff00"/>
<polygon points="1738.6,1227.5 1756.6,1258 1720.6,1258" fill="#00ff00"/>
<polygon points="1828.3,1224.5 1846.3,1255 1810.3,1255" fill="#00ff00"/>
<polygon points="1946.8,1221.4 1964.8,1251.9 1928.8,1251.9" fill="#00ff00"/>
<polygon points="2007.6,1221.4 2025.6,1251.9 1989.6,1251.9" fill="#00ff00"/>
<polygon points="2036.5,1223 2054.5,1253.5 2018.5,1253.5" fill="#00ff00"/>
</g>
<path d="M248.9 307.8 248.9 307.8 249.1 307.8 249.7 307.8 250.8 307.8 252.5 307.8 255.2 307.9 258.9 308 263.8 308.1 270.1 308.2 277.7 308.4 286.4 308.5 296.2 308.7 306.9 308.8 318.4 308.9 330.6 309 343.4 309 356.6 308.9 370.1 308.8 383.7 308.6 397.3 308.4 410.6 308.3 423.5 308.1 435.9 307.9 447.5 307.8 458.3 307.8 468.2 307.8 477.3 307.9 485.7 308 493.3 308.1 500.4 308.1 506.8 308.2 512.6 308.2 518 308.2 523.1 308.1 528 308.1 533 308 538.2 308 543.8 308 550 308 557 308.2 564.8 308.4 573.6 308.8 583.2 309.4 593.5 310.3 604.6 311.5 616.3 313.1 628.6 315.1 641.3 317.6 654.5 320.7 668 324.2 681.6 328 695.2 332 708.5 336.2 721.5 340.3 733.8 344.3 745.5 348.1 756.2 351.5 766.1 354.7 775.3 357.5 783.6 360 791.3 362.2 798.3 364.2 804.7 365.9 810.6 367.4 816 368.7 821 370.2 826 372.2 830.9 375 836.1 379 841.7 384.6 847.9 392 847.9 396.5 841.7 389.1 836.1 383.5 830.9 379.5 826 376.7 821 374.7 816 373.2 810.6 371.9 804.7 370.4 798.3 368.7 791.3 366.7 783.6 364.5 775.3 362 766.1 359.2 756.2 356 745.5 352.6 733.8 348.8 721.5 344.8 708.5 340.7 695.2 336.5 681.6 332.5 668 328.7 654.5 325.2 641.3 322.1 628.6 319.6 616.3 317.6 604.6 316 593.5 314.8 583.2 313.9 573.6 313.3 564.8 312.9 557 312.7 550 312.5 543.8 312.5 538.2 312.5 533 312.5 528 312.6 523.1 312.6 518 312.7 512.6 312.7 506.8 312.7 500.4 312.6 493.3 312.6 485.7 312.5 477.3 312.4 468.2 312.3 458.3 312.3 447.5 312.3 435.9 312.4 423.5 312.6 410.6 312.8 397.3 312.9 383.7 313.1 370.1 313.3 356.6 313.4 343.4 313.5 330.6 313.5 318.4 313.4 306.9 313.3 296.2 313.2 286.4 313 277.7 312.9 270.1 312.7 263.8 312.6 258.9 312.5 255.2 312.4 252.5 312.3 250.8 312.3 249.7 312.3 249.1 312.3 248.9 312.3 248.9 312.2ZM838.4 381.2 844 386.8 850.2 394.3 857.2 404.1 865 416.4 873.8 431.1 883.4 448.1 893.7 467.1 904.8 487.9 916.5 510.4 928.7 534.3 941.5 559.4 954.7 585.6 968.2 612.5 981.8 639.8 995.4 667.2 1008.7 694.4 1021.6 721.1 1034 747 1045.6 771.7 1056.4 795.1 1066.3 817.1 1075.4 837.6 1083.8 856.7 1091.5 874.3 1098.5 890.5 1104.9 905.3 1110.8 918.6 1116.1 930.6 1121.2 941.6 1126.1 952 1131.1 962.4 1136.3 973.2 1141.9 984.9 1148.1 997.9 1155.1 1012.7 1163 1029.6 1171.7 1048.2 1181.3 1068 1191.7 1088.5 1202.7 1109.2 1214.4 1129.5 1226.7 1149 1239.4 1167 1252.7 1183.2 1266.2 1197.6 1279.8 1210.3 1275.3 1210.3 1261.7 1197.6 1248.2 1183.2 1234.9 1167 1222.2 1149 1209.9 1129.5 1198.2 1109.2 1187.2 1088.5 1176.8 1068 1167.2 1048.2 1158.5 1029.6 1150.6 1012.7 1143.6 997.9 1137.4 984.9 1131.8 973.2 1126.6 962.4 1121.6 952 1116.7 941.6 1111.6 930.6 1106.3 918.6 1100.4 905.3 1094 890.5 1087 874.3 1079.3 856.7 1070.9 837.6 1061.8 817.1 1051.9 795.1 1041.1 771.7 1029.5 747 1017.1 721.1 1004.2 694.4 990.9 667.2 977.3 639.8 963.7 612.5 950.2 585.6 937 559.4 924.2 534.3 912 510.4 900.3 487.9 889.2 467.1 878.9 448.1 869.3 431.1 860.5 416.4 852.7 404.1 845.7 394.3 839.5 386.8 833.9 381.2ZM1250.4 1181 1263.9 1195.4 1277.5 1208 1291.1 1219 1304.4 1228.3 1317.3 1236.2 1329.7 1242.6 1341.3 1247.7 1352.1 1251.5 1362 1254.3 1371.1 1256.1 1379.5 1257.3 1387.1 1257.9 1394.2 1258.2 1400.6 1258.3 1406.4 1258.4 1411.8 1258.7 1416.9 1259.1 1421.8 1259.7 1426.8 1260.3 1432 1261 1437.6 1261.7 1443.8 1262.2 1450.8 1262.8 1458.6 1263.1 1467.4 1263.4 1477 1263.5 1487.3 1263.6 1498.4 1263.6 1510.1 1263.5 1522.4 1263.4 1535.1 1263.3 1548.3 1263.2 1561.8 1263.2 1575.4 1263.1 1589 1263.1 1602.3 1263.1 1615.3 1263.1 1627.6 1263.1 1639.3 1263.2 1650 1263.4 1659.9 1263.6 1669.1 1263.8 1677.4 1264 1685.1 1264.1 1692.1 1264.3 1698.5 1264.4 1704.4 1264.4 1709.8 1264.4 1714.8 1264.3 1719.8 1264.1 1724.7 1264 1729.9 1263.8 1735.5 1263.6 1741.7 1263.5 1748.7 1263.4 1756.6 1263.4 1765.3 1263.4 1774.9 1263.5 1785.3 1263.5 1796.3 1263.6 1808 1263.7 1820.3 1263.8 1833.1 1263.9 1846.3 1264 1859.8 1264 1873.4 1264 1886.9 1263.9 1900.3 1263.9 1913.2 1263.8 1925.6 1263.8 1937.2 1263.7 1948 1263.6 1957.9 1263.5 1967 1263.4 1975.4 1263.3 1983 1263.2 1990 1263.1 1996.4 1263.1 2002.3 1263.1 2007.7 1263.1 2012.5 1263.1 2016.9 1263.2 2020.8 1263.3 2024.2 1263.4 2027.2 1263.4 2029.7 1263.5 2031.7 1263.6 2033.3 1263.6 2034.5 1263.7 2035.3 1263.7 2035.9 1263.7 2036.2 1263.7 2036.4 1263.7 2036.5 1263.7 2036.5 1263.8 2036.5 1268.2 2036.5 1268.2 2036.4 1268.2 2036.2 1268.2 2035.9 1268.2 2035.3 1268.2 2034.5 1268.2 2033.3 1268.1 2031.7 1268.1 2029.7 1268 2027.2 1267.9 2024.2 1267.9 2020.8 1267.8 2016.9 1267.7 2012.5 1267.6 2007.7 1267.6 2002.3 1267.6 1996.4 1267.6 1990 1267.6 1983 1267.7 1975.4 1267.8 1967 1267.9 1957.9 1268 1948 1268.1 1937.2 1268.2 1925.6 1268.3 1913.2 1268.3 1900.3 1268.4 1886.9 1268.4 1873.4 1268.5 1859.8 1268.5 1846.3 1268.5 1833.1 1268.4 1820.3 1268.3 1808 1268.2 1796.3 1268.1 1785.3 1268 1774.9 1268 1765.3 1267.9 1756.6 1267.9 1748.7 1267.9 1741.7 1268 1735.5 1268.1 1729.9 1268.3 1724.7 1268.5 1719.8 1268.6 1714.8 1268.8 1709.8 1268.9 1704.4 1268.9 1698.5 1268.9 1692.1 1268.8 1685.1 1268.6 1677.4 1268.5 1669.1 1268.3 1659.9 1268.1 1650 1267.9 1639.3 1267.8 1627.6 1267.6 1615.3 1267.6 1602.3 1267.6 1589 1267.6 1575.4 1267.6 1561.8 1267.7 1548.3 1267.7 1535.1 1267.8 1522.4 1267.9 1510.1 1268 1498.4 1268.1 1487.3 1268.1 1477 1268 1467.4 1267.9 1458.6 1267.6 1450.8 1267.2 1443.8 1266.7 1437.6 1266.2 1432 1265.5 1426.8 1264.8 1421.8 1264.2 1416.9 1263.6 1411.8 1263.2 1406.4 1262.9 1400.6 1262.8 1394.2 1262.7 1387.1 1262.4 1379.5 1261.8 1371.1 1260.6 1362 1258.8 1352.1 1256 1341.3 1252.2 1329.7 1247.1 1317.3 1240.7 1304.4 1232.8 1291.1 1223.5 1277.5 1212.5 1263.9 1199.9 1250.4 1185.5Z" fill="#0000ff" stroke="none"/>
<g stroke="none">
<polygon points="248.9,331 266.9,300 230.9,300" fill="#0000ff"/>
<polygon points="338.6,333 356.6,302 320.6,302" fill="#0000ff"/>
<polygon points="457.1,330.4 475.1,299.4 439.1,299.4" fill="#0000ff"/>
<polygon points="518,332 536,301 500,301" fill="#0000ff"/>
<polygon points="546.8,330.4 564.8,299.4 528.8,299.4" fill="#0000ff"/>
<polygon points="636.5,335 654.5,304 618.5,304" fill="#0000ff"/>
<polygon points="755.1,375 773.1,344 737.1,344" fill="#0000ff"/>
<polygon points="815.9,393 833.9,362 797.9,362" fill="#0000ff"/>
<polygon points="844.8,397 862.8,366 826.8,366" fill="#0000ff"/>
<polygon points="934.5,569.4 952.5,538.4 916.5,538.4" fill="#0000ff"/>
<polygon points="1053,808 1071,777 1035,777" fill="#0000ff"/>
<polygon points="1113.8,955 1131.8,924 1095.8,924" fill="#0000ff"/>
<polygon points="1142.7,1009.7 1160.7,978.7 1124.7,978.7" fill="#0000ff"/>
<polygon points="1232.4,1208.5 1250.4,1177.5 1214.4,1177.5" fill="#0000ff"/>
<polygon points="1350.9,1284.4 1368.9,1253.4 1332.9,1253.4" fill="#0000ff"/>
<polygon points="1411.8,1279.5 1429.8,1248.5 1393.8,1248.5" fill="#0000ff"/>
<polygon points="1440.6,1287.5 1458.6,1256.5 1422.6,1256.5" fill="#0000ff"/>
<polygon points="1530.3,1286.5 1548.3,1255.5 1512.3,1255.5" fill="#0000ff"/>
<polygon points="1648.9,1286 1666.9,1255 1630.9,1255" fill="#0000ff"/>
<polygon points="1709.7,1288.5 1727.7,1257.5 1691.7,1257.5" fill="#0000ff"/>
<polygon points="1738.6,1286 1756.6,1255 1720.6,1255" fill="#0000ff"/>
<polygon points="1828.3,1287.5 1846.3,1256.5 1810.3,1256.5" fill="#0000ff"/>
<polygon points="1946.8,1287 1964.8,1256 1928.8,1256" fill="#0000ff"/>
<polygon points="2007.6,1286 2025.6,1255 1989.6,1255" fill="#0000ff"/>
<polygon points="2036.5,1287 2054.5,1256 2018.5,1256" fill="#0000ff"/>
</g>
<path d="M248.9 309.8 248.9 309.8 249.1 309.8 249.7 309.8 250.8 309.8 252.5 309.9 255.2 310 258.9 310.2 263.8 310.4 270.1 310.7 277.7 311 286.4 311.4 296.2 311.8 306.9 312.2 318.4 312.6 330.6 313.1 343.4 313.5 356.6 313.8 370.1 314.2 383.7 314.5 397.3 314.7 410.6 314.8 423.5 314.8 435.9 314.7 447.5 314.5 458.3 314.1 468.2 313.7 477.3 313.1 485.7 312.6 493.3 312.1 500.4 311.7 506.8 311.5 512.6 311.4 518 311.5 523.1 311.8 528 312.3 533 312.8 538.2 313.3 543.8 313.8 550 314.2 557 314.4 564.8 314.6 573.6 314.6 583.2 314.6 593.5 314.6 604.6 314.8 616.3 315.3 628.6 316.1 641.3 317.2 654.5 318.9 668 321 681.6 323.3 695.2 325.9 708.5 328.7 721.5 331.4 733.8 334.2 745.5 336.7 756.2 339.1 766.1 341.2 775.3 343.1 783.6 344.8 791.3 346.3 798.3 347.7 804.7 348.9 810.6 350 816 350.9 821 351.9 826 353.2 830.9 355 836.1 357.5 841.7 360.9 847.9 365.4 854.9 371.1 862.8 378.4 871.5 387.3 871.5 391.8 862.8 382.9 854.9 375.6 847.9 369.9 841.7 365.4 836.1 362 830.9 359.5 826 357.7 821 356.4 816 355.4 810.6 354.5 804.7 353.4 798.3 352.2 791.3 350.8 783.6 349.3 775.3 347.6 766.1 345.7 756.2 343.6 745.5 341.2 733.8 338.7 721.5 335.9 708.5 333.2 695.2 330.4 681.6 327.8 668 325.5 654.5 323.4 641.3 321.8 628.6 320.6 616.3 319.8 604.6 319.3 593.5 319.1 583.2 319.1 573.6 319.1 564.8 319.1 557 318.9 550 318.7 543.8 318.3 538.2 317.8 533 317.3 528 316.8 523.1 316.3 518 316 512.6 315.9 506.8 316 500.4 316.2 493.3 316.6 485.7 317.1 477.3 317.6 468.2 318.2 458.3 318.6 447.5 319 435.9 319.2 423.5 319.3 410.6 319.3 397.3 319.2 383.7 319 370.1 318.7 356.6 318.3 343.4 318 330.6 317.6 318.4 317.1 306.9 316.7 296.2 316.3 286.4 315.9 277.7 315.5 270.1 315.2 263.8 314.9 258.9 314.7 255.2 314.5 252.5 314.4 250.8 314.3 249.7 314.3 249.1 314.3 248.9 314.3 248.9 314.2ZM857.2 373.4 865 380.6 873.8 389.5 883.4 400.1 893.7 412.6 904.8 427 916.5 443.4 928.7 462.1 941.5 483 954.7 506.1 968.2 531.2 981.8 557.5 995.4 584.6 1008.7 612 1021.6 639 1034 665.2 1045.6 690.1 1056.4 713.1 1066.3 734.3 1075.4 753.9 1083.8 772 1091.5 788.7 1098.5 804.2 1104.9 818.5 1110.8 831.8 1116.1 844.4 1121.2 856.5 1126.1 868.5 1131.1 880.8 1136.3 893.7 1141.9 907.8 1148.1 923.3 1155.1 940.6 1163 959.9 1171.7 981.1 1181.3 1003.6 1191.7 1027.1 1202.7 1051 1214.4 1075 1226.7 1098.6 1239.4 1121.4 1252.7 1143.1 1266.2 1163.4 1279.8 1182.1 1293.3 1199.2 1306.6 1214.5 1319.6 1227.8 1331.9 1238.9 1327.4 1238.9 1315.1 1227.8 1302.1 1214.5 1288.8 1199.2 1275.3 1182.1 1261.7 1163.4 1248.2 1143.1 1234.9 1121.4 1222.2 1098.6 1209.9 1075 1198.2 1051 1187.2 1027.1 1176.8 1003.6 1167.2 981.1 1158.5 959.9 1150.6 940.6 1143.6 923.3 1137.4 907.8 1131.8 893.7 1126.6 880.8 1121.6 868.5 1116.7 856.5 1111.6 844.4 1106.3 831.8 1100.4 818.5 1094 804.2 1087 788.7 1079.3 772 1070.9 753.9 1061.8 734.3 1051.9 713.1 1041.1 690.1 1029.5 665.2 1017.1 639 1004.2 612 990.9 584.6 977.3 557.5 963.7 531.2 950.2 506.1 937 483 924.2 462.1 912 443.4 900.3 427 889.2 412.6 878.9 400.1 869.3 389.5 860.5 380.6 852.7 373.4ZM1304.4 1212.2 1317.3 1225.5 1329.7 1236.7 1341.3 1245.5 1352.1 1252.1 1362 1256.5 1371.1 1259.3 1379.5 1260.7 1387.1 1261.1 1394.2 1260.9 1400.6 1260.4 1406.4 1259.9 1411.8 1259.8 1416.9 1260.1 1421.8 1260.7 1426.8 1261.5 1432 1262.5 1437.6 1263.5 1443.8 1264.5 1450.8 1265.5 1458.6 1266.3 1467.4 1267 1477 1267.6 1487.3 1268.1 1498.4 1268.5 1510.1 1268.8 1522.4 1269.2 1535.1 1269.5 1548.3 1269.8 1561.8 1270.1 1575.4 1270.4 1589 1270.7 1602.3 1271 1615.3 1271.2 1627.6 1271.4 1639.3 1271.6 1650 1271.8 1659.9 1271.9 1669.1 1271.9 1677.4 1272 1685.1 1272 1692.1 1272 1698.5 1272 1704.4 1272 1709.8 1272 1714.8 1272 1719.8 1272 1724.7 1272 1729.9 1272 1735.5 1271.9 1741.7 1271.8 1748.7 1271.7 1756.6 1271.6 1765.3 1271.4 1774.9 1271.2 1785.3 1271.1 1796.3 1270.9 1808 1270.8 1820.3 1270.6 1833.1 1270.5 1846.3 1270.5 1859.8 1270.5 1873.4 1270.5 1886.9 1270.6 1900.3 1270.7 1913.2 1270.7 1925.6 1270.8 1937.2 1270.9 1948 1270.9 1957.9 1271 1967 1271 1975.4 1271 1983 1271 1990 1271 1996.4 1271 2002.3 1271 2007.7 1271 2012.5 1271 2016.9 1270.9 2020.8 1270.9 2024.2 1270.9 2027.2 1270.8 2029.7 1270.8 2031.7 1270.8 2033.3 1270.8 2034.5 1270.8 2035.3 1270.8 2035.9 1270.8 2036.2 1270.8 2036.4 1270.8 2036.5 1270.8 2036.5 1270.8 2036.5 1275.2 2036.5 1275.3 2036.4 1275.3 2036.2 1275.3 2035.9 1275.3 2035.3 1275.3 2034.5 1275.3 2033.3 1275.3 2031.7 1275.3 2029.7 1275.3 2027.2 1275.3 2024.2 1275.4 2020.8 1275.4 2016.9 1275.4 2012.5 1275.5 2007.7 1275.5 2002.3 1275.5 1996.4 1275.5 1990 1275.5 1983 1275.5 1975.4 1275.5 1967 1275.5 1957.9 1275.5 1948 1275.4 1937.2 1275.4 1925.6 1275.3 1913.2 1275.2 1900.3 1275.2 1886.9 1275.1 1873.4 1275 1859.8 1275 1846.3 1275 1833.1 1275 1820.3 1275.1 1808 1275.3 1796.3 1275.4 1785.3 1275.6 1774.9 1275.7 1765.3 1275.9 1756.6 1276.1 1748.7 1276.2 1741.7 1276.3 1735.5 1276.4 1729.9 1276.5 1724.7 1276.5 1719.8 1276.5 1714.8 1276.5 1709.8 1276.5 1704.4 1276.5 1698.5 1276.5 1692.1 1276.5 1685.1 1276.5 1677.4 1276.5 1669.1 1276.4 1659.9 1276.4 1650 1276.3 1639.3 1276.1 1627.6 1275.9 1615.3 1275.7 1602.3 1275.5 1589 1275.2 1575.4 1274.9 1561.8 1274.6 1548.3 1274.3 1535.1 1274 1522.4 1273.7 1510.1 1273.3 1498.4 1273 1487.3 1272.6 1477 1272.1 1467.4 1271.5 1458.6 1270.8 1450.8 1270 1443.8 1269 1437.6 1268 1432 1267 1426.8 1266 1421.8 1265.2 1416.9 1264.6 1411.8 1264.3 1406.4 1264.4 1400.6 1264.9 1394.2 1265.4 1387.1 1265.6 1379.5 1265.2 1371.1 1263.8 1362 1261 1352.1 1256.6 1341.3 1250 1329.7 1241.2 1317.3 1230 1304.4 1216.7Z" fill="#00ffff" stroke="none"/>
<g stroke="none">
<polygon points="248.9,293 267.9,312 248.9,331 229.9,312" fill="#00ffff"/>
<polygon points="338.6,297 357.6,316 338.6,335 319.6,316" fill="#00ffff"/>
<polygon points="457.1,299.3 476.1,318.3 457.1,337.3 438.1,318.3" fill="#00ffff"/>
<polygon points="518,292.2 537,311.2 518,330.2 499,311.2" fill="#00ffff"/>
<polygon points="546.8,299.7 565.8,318.7 546.8,337.7 527.8,318.7" fill="#00ffff"/>
<polygon points="636.5,295.2 655.5,314.2 636.5,333.2 617.5,314.2" fill="#00ffff"/>
<polygon points="755.1,322.5 774.1,341.5 755.1,360.5 736.1,341.5" fill="#00ffff"/>
<polygon points="815.9,334.6 834.9,353.6 815.9,372.6 796.9,353.6" fill="#00ffff"/>
<polygon points="844.8,338.3 863.8,357.3 844.8,376.3 825.8,357.3" fill="#00ffff"/>
<polygon points="934.5,438.5 953.5,457.5 934.5,476.5 915.5,457.5" fill="#00ffff"/>
<polygon points="1053,691.5 1072,710.5 1053,729.5 1034,710.5" fill="#00ffff"/>
<polygon points="1113.8,821.9 1132.8,840.9 1113.8,859.9 1094.8,840.9" fill="#00ffff"/>
<polygon points="1142.7,898 1161.7,917 1142.7,936 1123.7,917" fill="#00ffff"/>
<polygon points="1232.4,1115.5 1251.4,1134.5 1232.4,1153.5 1213.4,1134.5" fill="#00ffff"/>
<polygon points="1350.9,1254.7 1369.9,1273.7 1350.9,1292.7 1331.9,1273.7" fill="#00ffff"/>
<polygon points="1411.8,1238.5 1430.8,1257.5 1411.8,1276.5 1392.8,1257.5" fill="#00ffff"/>
<polygon points="1440.6,1250.3 1459.6,1269.3 1440.6,1288.3 1421.6,1269.3" fill="#00ffff"/>
<polygon points="1530.3,1252.7 1549.3,1271.7 1530.3,1290.7 1511.3,1271.7" fill="#00ffff"/>
<polygon points="1648.9,1255.3 1667.9,1274.3 1648.9,1293.3 1629.9,1274.3" fill="#00ffff"/>
<polygon points="1709.7,1255.3 1728.7,1274.3 1709.7,1293.3 1690.7,1274.3" fill="#00ffff"/>
<polygon points="1738.6,1255.3 1757.6,1274.3 1738.6,1293.3 1719.6,1274.3" fill="#00ffff"/>
<polygon points="1828.3,1253.3 1847.3,1272.3 1828.3,1291.3 1809.3,1272.3" fill="#00ffff"/>
<polygon points="1946.8,1254.3 1965.8,1273.3 1946.8,1292.3 1927.8,1273.3" fill="#00ffff"/>
<polygon points="2007.6,1254.3 2026.6,1273.3 2007.6,1292.3 1988.6,1273.3" fill="#00ffff"/>
<polygon points="2036.5,1254 2055.5,1273 2036.5,1292 2017.5,1273" fill="#00ffff"/>
</g>
<path d="M248.9 324.6 248.9 324.6 249.1 324.6 249.7 324.6 250.8 324.7 252.5 324.8 255.2 325.1 258.9 325.4 263.8 325.8 270.1 326.3 277.7 326.9 286.4 327.5 296.2 328.3 306.9 329.1 318.4 329.9 330.6 330.8 343.4 331.6 356.6 332.4 370.1 333.3 383.7 334 397.3 334.8 410.6 335.5 423.5 336.2 435.9 336.8 447.5 337.3 458.3 337.8 468.2 338.2 477.3 338.6 485.7 338.9 493.3 339.2 500.4 339.5 506.8 339.7 512.6 339.9 518 340.2 523.1 340.4 528 340.7 533 341 538.2 341.4 543.8 341.8 550 342.3 557 342.9 564.8 343.7 573.6 344.5 583.2 345.3 593.5 346.2 604.6 347 616.3 347.7 628.6 348.4 641.3 348.9 654.5 349.3 668 349.5 681.6 349.6 695.2 349.7 708.5 349.8 721.5 349.9 733.8 350.1 745.5 350.4 756.2 350.9 766.1 351.4 775.3 352.1 783.6 352.8 791.3 353.6 798.3 354.4 804.7 355.1 810.6 355.8 816 356.3 821 357 826 357.7 830.9 358.7 836.1 360 841.7 361.7 847.9 364 854.9 367 862.8 370.7 871.5 375.5 881.1 381.6 891.5 389.3 902.5 398.8 914.2 410.4 926.5 424.4 926.5 428.9 914.2 414.9 902.5 403.3 891.5 393.8 881.1 386.1 871.5 380 862.8 375.2 854.9 371.5 847.9 368.5 841.7 366.2 836.1 364.5 830.9 363.2 826 362.2 821 361.5 816 360.8 810.6 360.2 804.7 359.6 798.3 358.9 791.3 358.1 783.6 357.3 775.3 356.6 766.1 355.9 756.2 355.4 745.5 354.9 733.8 354.6 721.5 354.4 708.5 354.3 695.2 354.2 681.6 354.1 668 354 654.5 353.8 641.3 353.4 628.6 352.9 616.3 352.2 604.6 351.5 593.5 350.7 583.2 349.8 573.6 349 564.8 348.2 557 347.4 550 346.8 543.8 346.3 538.2 345.9 533 345.5 528 345.2 523.1 344.9 518 344.7 512.6 344.4 506.8 344.2 500.4 344 493.3 343.7 485.7 343.4 477.3 343.1 468.2 342.7 458.3 342.3 447.5 341.8 435.9 341.3 423.5 340.7 410.6 340 397.3 339.3 383.7 338.5 370.1 337.8 356.6 336.9 343.4 336.1 330.6 335.3 318.4 334.4 306.9 333.6 296.2 332.8 286.4 332 277.7 331.4 270.1 330.8 263.8 330.3 258.9 329.9 255.2 329.6 252.5 329.3 250.8 329.2 249.7 329.1 249.1 329.1 248.9 329.1 248.9 329.1ZM904.8 401 916.5 412.7 928.7 426.6 941.5 443.2 954.7 462.6 968.2 484.2 981.8 507.4 995.4 531.6 1008.7 556.1 1021.6 580.2 1034 603.4 1045.6 624.9 1056.4 644.4 1066.3 661.8 1075.4 677.7 1083.8 692.3 1091.5 705.8 1098.5 718.8 1104.9 731.4 1110.8 744 1116.1 756.9 1121.2 770.4 1126.1 784.7 1131.1 800 1136.3 816.6 1141.9 834.8 1148.1 854.6 1155.1 876.5 1163 900.5 1171.7 926.3 1181.3 953.5 1191.7 981.7 1202.7 1010.4 1214.4 1039.2 1226.7 1067.7 1239.4 1095.5 1252.7 1122.1 1266.2 1147.4 1279.8 1171.1 1293.3 1193.1 1306.6 1213 1319.6 1230.8 1331.9 1246.2 1343.6 1259 1354.3 1269 1349.8 1269 1339.1 1259 1327.4 1246.2 1315.1 1230.8 1302.1 1213 1288.8 1193.1 1275.3 1171.1 1261.7 1147.4 1248.2 1122.1 1234.9 1095.5 1222.2 1067.7 1209.9 1039.2 1198.2 1010.4 1187.2 981.7 1176.8 953.5 1167.2 926.3 1158.5 900.5 1150.6 876.5 1143.6 854.6 1137.4 834.8 1131.8 816.6 1126.6 800 1121.6 784.7 1116.7 770.4 1111.6 756.9 1106.3 744 1100.4 731.4 1094 718.8 1087 705.8 1079.3 692.3 1070.9 677.7 1061.8 661.8 1051.9 644.4 1041.1 624.9 1029.5 603.4 1017.1 580.2 1004.2 556.1 990.9 531.6 977.3 507.4 963.7 484.2 950.2 462.6 937 443.2 924.2 426.6 912 412.7 900.3 401ZM1329.7 1243.9 1341.3 1256.7 1352.1 1266.8 1362 1274.4 1371.1 1279.9 1379.5 1283.6 1387.1 1285.9 1394.2 1287.1 1400.6 1287.5 1406.4 1287.6 1411.8 1287.6 1416.9 1287.5 1421.8 1287.4 1426.8 1287.3 1432 1287.2 1437.6 1287.1 1443.8 1287 1450.8 1287 1458.6 1286.9 1467.4 1287 1477 1287 1487.3 1287.1 1498.4 1287.2 1510.1 1287.3 1522.4 1287.4 1535.1 1287.5 1548.3 1287.6 1561.8 1287.7 1575.4 1287.7 1589 1287.7 1602.3 1287.7 1615.3 1287.7 1627.6 1287.7 1639.3 1287.7 1650 1287.6 1659.9 1287.6 1669.1 1287.5 1677.4 1287.5 1685.1 1287.5 1692.1 1287.4 1698.5 1287.4 1704.4 1287.3 1709.8 1287.3 1714.8 1287.3 1719.8 1287.3 1724.7 1287.3 1729.9 1287.3 1735.5 1287.3 1741.7 1287.3 1748.7 1287.3 1756.6 1287.4 1765.3 1287.4 1774.9 1287.4 1785.3 1287.5 1796.3 1287.5 1808 1287.6 1820.3 1287.6 1833.1 1287.6 1846.3 1287.6 1859.8 1287.6 1873.4 1287.5 1886.9 1287.5 1900.3 1287.4 1913.2 1287.4 1925.6 1287.4 1937.2 1287.3 1948 1287.3 1957.9 1287.3 1967 1287.3 1975.4 1287.3 1983 1287.3 1990 1287.3 1996.4 1287.3 2002.3 1287.2 2007.7 1287.2 2012.5 1287.2 2016.9 1287.2 2020.8 1287.3 2024.2 1287.3 2027.2 1287.2 2029.7 1287.2 2031.7 1287.2 2033.3 1287.2 2034.5 1287.2 2035.3 1287.2 2035.9 1287.3 2036.2 1287.3 2036.4 1287.2 2036.5 1287.2 2036.5 1287.2 2036.5 1291.8 2036.5 1291.7 2036.4 1291.8 2036.2 1291.8 2035.9 1291.8 2035.3 1291.8 2034.5 1291.8 2033.3 1291.7 2031.7 1291.8 2029.7 1291.7 2027.2 1291.8 2024.2 1291.8 2020.8 1291.8 2016.9 1291.8 2012.5 1291.8 2007.7 1291.7 2002.3 1291.8 1996.4 1291.8 1990 1291.8 1983 1291.8 1975.4 1291.8 1967 1291.8 1957.9 1291.8 1948 1291.8 1937.2 1291.8 1925.6 1291.9 1913.2 1291.9 1900.3 1291.9 1886.9 1292 1873.4 1292 1859.8 1292.1 1846.3 1292.1 1833.1 1292.1 1820.3 1292.1 1808 1292.1 1796.3 1292 1785.3 1292 1774.9 1291.9 1765.3 1291.9 1756.6 1291.9 1748.7 1291.8 1741.7 1291.8 1735.5 1291.8 1729.9 1291.8 1724.7 1291.8 1719.8 1291.8 1714.8 1291.8 1709.8 1291.8 1704.4 1291.8 1698.5 1291.9 1692.1 1291.9 1685.1 1292 1677.4 1292 1669.1 1292 1659.9 1292.1 1650 1292.1 1639.3 1292.2 1627.6 1292.2 1615.3 1292.2 1602.3 1292.2 1589 1292.2 1575.4 1292.2 1561.8 1292.2 1548.3 1292.1 1535.1 1292 1522.4 1291.9 1510.1 1291.8 1498.4 1291.7 1487.3 1291.6 1477 1291.5 1467.4 1291.5 1458.6 1291.4 1450.8 1291.5 1443.8 1291.5 1437.6 1291.6 1432 1291.7 1426.8 1291.8 1421.8 1291.9 1416.9 1292 1411.8 1292.1 1406.4 1292.1 1400.6 1292 1394.2 1291.6 1387.1 1290.4 1379.5 1288.1 1371.1 1284.4 1362 1278.9 1352.1 1271.3 1341.3 1261.2 1329.7 1248.4Z" fill="#ff00ff" stroke="none"/>
<g stroke="none">
<polygon points="227.9,326.8 259.4,308.8 259.4,344.8" fill="#ff00ff"/>
<polygon points="317.6,334 349.1,316 349.1,352" fill="#ff00ff"/>
<polygon points="436.1,340.3 467.6,322.3 467.6,358.3" fill="#ff00ff"/>
<polygon points="497,342.2 528.5,324.2 528.5,360.2" fill="#ff00ff"/>
<polygon points="525.8,344 557.3,326 557.3,362" fill="#ff00ff"/>
<polygon points="615.5,353 647,335 647,371" fill="#ff00ff"/>
<polygon points="734.1,351 765.6,333 765.6,369" fill="#ff00ff"/>
<polygon points="794.9,359 826.4,341 826.4,377" fill="#ff00ff"/>
<polygon points="823.8,361 855.3,343 855.3,379" fill="#ff00ff"/>
<polygon points="913.5,412.3 945,394.3 945,430.3" fill="#ff00ff"/>
<polygon points="1032,649.2 1063.5,631.2 1063.5,667.2" fill="#ff00ff"/>
<polygon points="1092.8,740.5 1124.3,722.5 1124.3,758.5" fill="#ff00ff"/>
<polygon points="1121.7,852.7 1153.2,834.7 1153.2,870.7" fill="#ff00ff"/>
<polygon points="1211.4,1107.8 1242.9,1089.8 1242.9,1125.8" fill="#ff00ff"/>
<polygon points="1329.9,1288.9 1361.4,1270.9 1361.4,1306.9" fill="#ff00ff"/>
<polygon points="1390.8,1290.4 1422.3,1272.4 1422.3,1308.4" fill="#ff00ff"/>
<polygon points="1419.6,1288.7 1451.1,1270.7 1451.1,1306.7" fill="#ff00ff"/>
<polygon points="1509.3,1290 1540.8,1272 1540.8,1308" fill="#ff00ff"/>
<polygon points="1627.9,1290 1659.4,1272 1659.4,1308" fill="#ff00ff"/>
<polygon points="1688.7,1289.5 1720.2,1271.5 1720.2,1307.5" fill="#ff00ff"/>
<polygon points="1717.6,1289.5 1749.1,1271.5 1749.1,1307.5" fill="#ff00ff"/>
<polygon points="1807.3,1290 1838.8,1272 1838.8,1308" fill="#ff00ff"/>
<polygon points="1925.8,1289.5 1957.3,1271.5 1957.3,1307.5" fill="#ff00ff"/>
<polygon points="1986.6,1289.5 2018.1,1271.5 2018.1,1307.5" fill="#ff00ff"/>
<polygon points="2015.5,1289.5 2047,1271.5 2047,1307.5" fill="#ff00ff"/>
</g>
<path d="M248 1320.3 252 1320.3 256 1320.2 260 1320.1 264 1320.1 268 1320 272 1320 276 1319.9 280 1319.9 284 1319.9 288 1319.8 292 1319.8 296 1319.8 300 1319.7 304 1319.7 308 1319.7 312 1319.6 316 1319.6 320 1319.6 324 1319.5 328 1319.4 332 1319.4 336 1319.3 340 1319.2 344 1319.1 348 1319 352 1318.9 356 1318.8 360 1318.6 364 1318.5 368 1318.3 372 1318.1 376 1317.9 380 1317.7 384 1317.4 388 1317.2 392 1316.9 396 1316.6 400 1316.2 404 1315.9 408 1315.5 412 1315.1 416 1314.6 420 1314.2 424 1313.7 428 1313.2 432 1312.6 436 1312 440 1311.4 444 1310.8 448 1310.1 452 1309.4 456 1308.6 460 1307.8 464 1307 468 1306.1 472 1305.2 476 1304.3 480 1303.3 484 1302.2 488 1301.2 492 1300 496 1298.9 500 1297.7 504 1296.4 508 1295.1 512 1293.8 516 1292.4 520 1290.9 524 1289.4 528 1287.8 532 1286.2 536 1284.6 540 1282.9 544 1281.1 548 1279.3 552 1277.5 556 1275.6 560 1273.7 564 1271.7 568 1269.7 572 1267.7 576 1265.6 580 1263.5 584 1261.3 588 1259.1 592 1256.8 596 1254.5 600 1252.2 604 1249.9 608 1247.5 612 1245.1 616 1242.6 620 1240.1 624 1237.6 628 1235.1 632 1232.5 636 1229.9 640 1227.2 644 1224.6 648 1221.9 652 1219.2 656 1216.4 660 1213.6 664 1210.9 668 1208 672 1205.2 676 1202.4 680 1199.5 684 1196.6 688 1193.7 692 1190.7 696 1187.7 700 1184.7 704 1181.6 708 1178.5 712 1175.3 716 1172.1 720 1168.7 724 1165.3 728 1161.8 732 1158.1 736 1154.4 740 1150.6 744 1146.6 748 1142.5 748 1147 744 1151.1 740 1155.1 736 1158.9 732 1162.6 728 1166.3 724 1169.8 720 1173.2 716 1176.6 712 1179.8 708 1183 704 1186.1 700 1189.2 696 1192.2 692 1195.2 688 1198.2 684 1201.1 680 1204 676 1206.9 672 1209.7 668 1212.5 664 1215.4 660 1218.1 656 1220.9 652 1223.7 648 1226.4 644 1229.1 640 1231.7 636 1234.4 632 1237 628 1239.6 624 1242.1 620 1244.6 616 1247.1 612 1249.6 608 1252 604 1254.4 600 1256.7 596 1259 592 1261.3 588 1263.6 584 1265.8 580 1268 576 1270.1 572 1272.2 568 1274.2 564 1276.2 560 1278.2 556 1280.1 552 1282 548 1283.8 544 1285.6 540 1287.4 536 1289.1 532 1290.7 528 1292.3 524 1293.9 520 1295.4 516 1296.9 512 1298.3 508 1299.6 504 1300.9 500 1302.2 496 1303.4 492 1304.5 488 1305.7 484 1306.7 480 1307.8 476 1308.8 472 1309.7 468 1310.6 464 1311.5 460 1312.3 456 1313.1 452 1313.9 448 1314.6 444 1315.3 440 1315.9 436 1316.5 432 1317.1 428 1317.7 424 1318.2 420 1318.7 416 1319.1 412 1319.6 408 1320 404 1320.4 400 1320.7 396 1321.1 392 1321.4 388 1321.7 384 1321.9 380 1322.2 376 1322.4 372 1322.6 368 1322.8 364 1323 360 1323.1 356 1323.3 352 1323.4 348 1323.5 344 1323.6 340 1323.7 336 1323.8 332 1323.9 328 1323.9 324 1324 320 1324.1 316 1324.1 312 1324.1 308 1324.2 304 1324.2 300 1324.2 296 1324.3 292 1324.3 288 1324.3 284 1324.4 280 1324.4 276 1324.4 272 1324.5 268 1324.5 264 1324.6 260 1324.6 256 1324.7 252 1324.8 248 1324.8ZM737.8 1152.8 741.8 1148.9 745.8 1144.8 749.8 1140.5 753.8 1136.2 757.8 1131.6 761.8 1126.9 765.8 1122.1 769.8 1117.1 773.8 1111.8 777.8 1106.5 781.8 1100.9 785.8 1095.1 789.8 1089.1 793.8 1082.8 797.8 1076.3 801.8 1069.5 805.8 1062.3 809.8 1054.7 813.8 1046.7 817.8 1038.2 821.8 1029.1 825.8 1019.6 829.8 1009.4 833.8 998.6 837.8 987.4 841.8 976 845.8 964.7 849.8 953.6 853.8 943 857.8 933 861.8 923.4 865.8 914.2 869.8 905.4 873.8 896.7 877.8 888.2 881.8 879.7 885.8 871.3 889.8 863 893.8 854.7 897.8 846.5 901.8 838.4 905.8 830.4 909.8 822.4 913.8 814.6 917.8 806.8 921.8 799.1 925.8 791.4 929.8 783.9 933.8 776.4 937.8 768.9 941.8 761.5 945.8 754.2 949.8 746.9 953.8 739.6 957.8 732.4 961.8 725.3 965.8 718.1 969.8 711 973.8 703.9 977.8 696.8 981.8 689.8 985.8 682.7 989.8 675.7 993.8 668.7 997.8 661.7 1001.8 654.6 1005.8 647.6 1009.8 640.5 1013.8 633.5 1017.8 626.4 1021.8 619.2 1025.8 612 1029.8 604.7 1033.8 597.2 1037.8 589.7 1041.8 582 1045.8 574.1 1049.8 566.1 1053.8 557.8 1057.8 549.4 1061.8 540.7 1065.8 531.8 1069.8 522.6 1073.8 513.2 1077.8 503.5 1081.8 493.5 1085.8 483.5 1089.8 473.5 1093.8 463.9 1097.8 454.8 1101.8 446.5 1105.8 439.2 1109.8 433.2 1113.8 428.8 1117.8 425.9 1122.2 425.9 1118.2 428.8 1114.2 433.2 1110.2 439.2 1106.2 446.5 1102.2 454.8 1098.2 463.9 1094.2 473.5 1090.2 483.5 1086.2 493.5 1082.2 503.5 1078.2 513.2 1074.2 522.6 1070.2 531.8 1066.2 540.7 1062.2 549.4 1058.2 557.8 1054.2 566.1 1050.2 574.1 1046.2 582 1042.2 589.7 1038.2 597.2 1034.2 604.7 1030.2 612 1026.2 619.2 1022.2 626.4 1018.2 633.5 1014.2 640.5 1010.2 647.6 1006.2 654.6 1002.2 661.7 998.2 668.7 994.2 675.7 990.2 682.7 986.2 689.8 982.2 696.8 978.2 703.9 974.2 711 970.2 718.1 966.2 725.3 962.2 732.4 958.2 739.6 954.2 746.9 950.2 754.2 946.2 761.5 942.2 768.9 938.2 776.4 934.2 783.9 930.2 791.4 926.2 799.1 922.2 806.8 918.2 814.6 914.2 822.4 910.2 830.4 906.2 838.4 902.2 846.5 898.2 854.7 894.2 863 890.2 871.3 886.2 879.7 882.2 888.2 878.2 896.7 874.2 905.4 870.2 914.2 866.2 923.4 862.2 933 858.2 943 854.2 953.6 850.2 964.7 846.2 976 842.2 987.4 838.2 998.6 834.2 1009.4 830.2 1019.6 826.2 1029.1 822.2 1038.2 818.2 1046.7 814.2 1054.7 810.2 1062.3 806.2 1069.5 802.2 1076.3 798.2 1082.8 794.2 1089.1 790.2 1095.1 786.2 1100.9 782.2 1106.5 778.2 1111.8 774.2 1117.1 770.2 1122.1 766.2 1126.9 762.2 1131.6 758.2 1136.2 754.2 1140.5 750.2 1144.8 746.2 1148.9 742.2 1152.8ZM1112 431 1116 426.5 1120 423.6 1124 422.1 1128 421.8 1132 422.6 1136 424.3 1140 426.7 1144 429.8 1148 433.7 1152 438.1 1152 442.6 1148 438.2 1144 434.3 1140 431.2 1136 428.8 1132 427.1 1128 426.3 1124 426.6 1120 428.1 1116 431 1112 435.5ZM1146.2 432.1 1150.2 435.9 1154.2 440.4 1158.2 445.5 1162.2 451.2 1166.2 457.5 1170.2 464.3 1174.2 471.7 1178.2 479.5 1182.2 487.8 1186.2 496.5 1190.2 505.7 1194.2 515.2 1198.2 525 1202.2 535.2 1206.2 545.6 1210.2 556.3 1214.2 567.3 1218.2 578.6 1222.2 590.2 1226.2 601.9 1230.2 614 1234.2 626.3 1238.2 638.9 1242.2 651.7 1246.2 664.7 1250.2 678 1254.2 691.5 1258.2 705.2 1262.2 719.1 1266.2 733.3 1270.2 747.6 1274.2 762.2 1278.2 777 1282.2 791.9 1286.2 807.1 1290.2 822.4 1294.2 837.8 1298.2 853.3 1302.2 868.8 1306.2 884.2 1310.2 899.6 1314.2 914.8 1318.2 929.8 1322.2 944.6 1326.2 959.1 1330.2 973.2 1334.2 987 1338.2 1000.3 1342.2 1013.1 1346.2 1025.4 1350.2 1037.2 1354.2 1048.2 1358.2 1058.7 1362.2 1068.6 1366.2 1077.9 1370.2 1086.6 1374.2 1094.8 1378.2 1102.6 1382.2 1109.8 1386.2 1116.5 1390.2 1122.8 1394.2 1128.7 1398.2 1134.2 1402.2 1139.2 1406.2 1143.9 1410.2 1148.2 1414.2 1152.2 1409.8 1152.2 1405.8 1148.2 1401.8 1143.9 1397.8 1139.2 1393.8 1134.2 1389.8 1128.7 1385.8 1122.8 1381.8 1116.5 1377.8 1109.8 1373.8 1102.6 1369.8 1094.8 1365.8 1086.6 1361.8 1077.9 1357.8 1068.6 1353.8 1058.7 1349.8 1048.2 1345.8 1037.2 1341.8 1025.4 1337.8 1013.1 1333.8 1000.3 1329.8 987 1325.8 973.2 1321.8 959.1 1317.8 944.6 1313.8 929.8 1309.8 914.8 1305.8 899.6 1301.8 884.2 1297.8 868.8 1293.8 853.3 1289.8 837.8 1285.8 822.4 1281.8 807.1 1277.8 791.9 1273.8 777 1269.8 762.2 1265.8 747.6 1261.8 733.3 1257.8 719.1 1253.8 705.2 1249.8 691.5 1245.8 678 1241.8 664.7 1237.8 651.7 1233.8 638.9 1229.8 626.3 1225.8 614 1221.8 601.9 1217.8 590.2 1213.8 578.6 1209.8 567.3 1205.8 556.3 1201.8 545.6 1197.8 535.2 1193.8 525 1189.8 515.2 1185.8 505.7 1181.8 496.5 1177.8 487.8 1173.8 479.5 1169.8 471.7 1165.8 464.3 1161.8 457.5 1157.8 451.2 1153.8 445.5 1149.8 440.4 1145.8 435.9 1141.8 432.1ZM1404 1141.7 1408 1146 1412 1150 1416 1153.7 1420 1157.2 1424 1160.4 1428 1163.6 1432 1166.6 1436 1169.5 1440 1172.4 1444 1175.2 1448 1178.2 1452 1181.2 1456 1184.3 1460 1187.5 1464 1190.7 1468 1194 1472 1197.3 1476 1200.6 1480 1203.9 1484 1207.2 1488 1210.4 1492 1213.6 1496 1216.7 1500 1219.8 1504 1222.8 1508 1225.8 1512 1228.8 1516 1231.7 1520 1234.5 1524 1237.3 1528 1240.1 1532 1242.8 1536 1245.5 1540 1248.1 1544 1250.7 1548 1253.2 1552 1255.7 1556 1258.2 1560 1260.6 1564 1262.9 1568 1265.2 1572 1267.5 1576 1269.7 1580 1271.9 1584 1274 1588 1276.1 1592 1278.1 1596 1280.1 1600 1282.1 1604 1284 1608 1285.8 1612 1287.6 1616 1289.4 1620 1291.1 1624 1292.8 1628 1294.4 1632 1296 1636 1297.6 1640 1299.1 1644 1300.5 1648 1301.9 1652 1303.3 1656 1304.6 1660 1305.9 1664 1307.2 1668 1308.4 1672 1309.5 1676 1310.7 1680 1311.8 1684 1312.8 1688 1313.8 1692 1314.8 1696 1315.7 1700 1316.6 1704 1317.5 1708 1318.4 1712 1319.2 1716 1319.9 1720 1320.7 1724 1321.4 1728 1322.1 1732 1322.7 1736 1323.3 1740 1323.9 1744 1324.5 1748 1325 1752 1325.6 1756 1326 1760 1326.5 1764 1327 1768 1327.4 1772 1327.8 1776 1328.1 1780 1328.5 1784 1328.8 1788 1329.1 1792 1329.4 1796 1329.7 1800 1329.9 1804 1330.2 1808 1330.4 1812 1330.6 1816 1330.8 1820 1330.9 1824 1331.1 1828 1331.2 1832 1331.4 1836 1331.5 1840 1331.6 1844 1331.7 1848 1331.8 1852 1331.9 1856 1331.9 1860 1332 1864 1332 1868 1332.1 1872 1332.1 1876 1332.2 1880 1332.2 1884 1332.2 1888 1332.2 1892 1332.3 1896 1332.3 1900 1332.3 1904 1332.3 1908 1332.3 1912 1332.4 1916 1332.4 1920 1332.4 1924 1332.4 1928 1332.5 1932 1332.5 1936 1332.5 1940 1332.6 1944 1332.6 1948 1332.7 1952 1332.7 1956 1332.8 1960 1332.9 1964 1333 1968 1333.1 1972 1333.2 1976 1333.3 1980 1333.4 1984 1333.6 1988 1333.7 1992 1333.9 1996 1334.1 2000 1334.3 2004 1334.5 2008 1334.8 2012 1335 2016 1335.3 2020 1335.6 2024 1335.9 2028 1336.2 2032 1336.6 2036 1337 2038 1337 2038 1341.5 2036 1341.5 2032 1341.1 2028 1340.7 2024 1340.4 2020 1340.1 2016 1339.8 2012 1339.5 2008 1339.3 2004 1339 2000 1338.8 1996 1338.6 1992 1338.4 1988 1338.2 1984 1338.1 1980 1337.9 1976 1337.8 1972 1337.7 1968 1337.6 1964 1337.5 1960 1337.4 1956 1337.3 1952 1337.2 1948 1337.2 1944 1337.1 1940 1337.1 1936 1337 1932 1337 1928 1337 1924 1336.9 1920 1336.9 1916 1336.9 1912 1336.9 1908 1336.8 1904 1336.8 1900 1336.8 1896 1336.8 1892 1336.8 1888 1336.7 1884 1336.7 1880 1336.7 1876 1336.7 1872 1336.6 1868 1336.6 1864 1336.5 1860 1336.5 1856 1336.4 1852 1336.4 1848 1336.3 1844 1336.2 1840 1336.1 1836 1336 1832 1335.9 1828 1335.7 1824 1335.6 1820 1335.4 1816 1335.3 1812 1335.1 1808 1334.9 1804 1334.7 1800 1334.4 1796 1334.2 1792 1333.9 1788 1333.6 1784 1333.3 1780 1333 1776 1332.6 1772 1332.3 1768 1331.9 1764 1331.5 1760 1331 1756 1330.5 1752 1330.1 1748 1329.5 1744 1329 1740 1328.4 1736 1327.8 1732 1327.2 1728 1326.6 1724 1325.9 1720 1325.2 1716 1324.4 1712 1323.7 1708 1322.9 1704 1322 1700 1321.1 1696 1320.2 1692 1319.3 1688 1318.3 1684 1317.3 1680 1316.3 1676 1315.2 1672 1314 1668 1312.9 1664 1311.7 1660 1310.4 1656 1309.1 1652 1307.8 1648 1306.4 1644 1305 1640 1303.6 1636 1302.1 1632 1300.5 1628 1298.9 1624 1297.3 1620 1295.6 1616 1293.9 1612 1292.1 1608 1290.3 1604 1288.5 1600 1286.6 1596 1284.6 1592 1282.6 1588 1280.6 1584 1278.5 1580 1276.4 1576 1274.2 1572 1272 1568 1269.7 1564 1267.4 1560 1265.1 1556 1262.7 1552 1260.2 1548 1257.7 1544 1255.2 1540 1252.6 1536 1250 1532 1247.3 1528 1244.6 1524 1241.8 1520 1239 1516 1236.2 1512 1233.3 1508 1230.3 1504 1227.3 1500 1224.3 1496 1221.2 1492 1218.1 1488 1214.9 1484 1211.7 1480 1208.4 1476 1205.1 1472 1201.8 1468 1198.5 1464 1195.2 1460 1192 1456 1188.8 1452 1185.7 1448 1182.7 1444 1179.7 1440 1176.9 1436 1174 1432 1171.1 1428 1168.1 1424 1164.9 1420 1161.7 1416 1158.2 1412 1154.5 1408 1150.5 1404 1146.2Z" fill="#000000" stroke="none"/>
<path d="M248 1317.7 252 1317.5 256 1317.2 260 1317 264 1316.8 268 1316.6 272 1316.5 276 1316.3 280 1316.2 284 1316.1 288 1315.9 292 1315.8 296 1315.8 300 1315.7 304 1315.6 308 1315.6 312 1315.5 316 1315.5 320 1315.4 324 1315.4 328 1315.4 332 1315.3 336 1315.3 340 1315.3 344 1315.3 348 1315.2 352 1315.2 356 1315.1 360 1315.1 364 1315 368 1315 372 1314.9 376 1314.8 380 1314.7 384 1314.6 388 1314.5 392 1314.4 396 1314.2 400 1314.1 404 1313.9 408 1313.7 412 1313.5 416 1313.2 420 1313 424 1312.7 428 1312.4 432 1312 436 1311.7 440 1311.3 444 1310.8 448 1310.4 452 1309.9 456 1309.4 460 1308.9 464 1308.3 468 1307.7 472 1307 476 1306.3 480 1305.6 484 1304.9 488 1304.1 492 1303.2 496 1302.3 500 1301.4 504 1300.4 508 1299.4 512 1298.3 516 1297.2 520 1296.1 524 1294.9 528 1293.6 532 1292.3 536 1290.9 540 1289.5 544 1288.1 548 1286.6 552 1285 556 1283.5 560 1281.8 564 1280.1 568 1278.4 572 1276.7 576 1274.8 580 1273 584 1271.1 588 1269.2 592 1267.2 596 1265.2 600 1263.1 604 1261 608 1258.9 612 1256.7 616 1254.5 620 1252.2 624 1249.9 628 1247.6 632 1245.2 636 1242.8 640 1240.4 644 1237.9 648 1235.4 652 1232.8 656 1230.2 660 1227.6 664 1225 668 1222.3 672 1219.6 676 1216.8 680 1214 684 1211.2 688 1208.4 692 1205.5 696 1202.6 700 1199.7 704 1196.7 708 1193.7 712 1190.7 716 1187.6 720 1184.6 724 1181.5 728 1178.3 732 1175.2 736 1171.9 740 1168.6 744 1165.2 748 1161.7 752 1158.1 756 1154.4 760 1150.4 764 1146.4 764 1150.9 760 1154.9 756 1158.9 752 1162.6 748 1166.2 744 1169.7 740 1173.1 736 1176.4 732 1179.7 728 1182.8 724 1186 720 1189.1 716 1192.1 712 1195.2 708 1198.2 704 1201.2 700 1204.2 696 1207.1 692 1210 688 1212.9 684 1215.7 680 1218.5 676 1221.3 672 1224.1 668 1226.8 664 1229.5 660 1232.1 656 1234.7 652 1237.3 648 1239.9 644 1242.4 640 1244.9 636 1247.3 632 1249.7 628 1252.1 624 1254.4 620 1256.7 616 1259 612 1261.2 608 1263.4 604 1265.5 600 1267.6 596 1269.7 592 1271.7 588 1273.7 584 1275.6 580 1277.5 576 1279.3 572 1281.2 568 1282.9 564 1284.6 560 1286.3 556 1288 552 1289.5 548 1291.1 544 1292.6 540 1294 536 1295.4 532 1296.8 528 1298.1 524 1299.4 520 1300.6 516 1301.7 512 1302.8 508 1303.9 504 1304.9 500 1305.9 496 1306.8 492 1307.7 488 1308.6 484 1309.4 480 1310.1 476 1310.8 472 1311.5 468 1312.2 464 1312.8 460 1313.4 456 1313.9 452 1314.4 448 1314.9 444 1315.3 440 1315.8 436 1316.2 432 1316.5 428 1316.9 424 1317.2 420 1317.5 416 1317.7 412 1318 408 1318.2 404 1318.4 400 1318.6 396 1318.7 392 1318.9 388 1319 384 1319.1 380 1319.2 376 1319.3 372 1319.4 368 1319.5 364 1319.5 360 1319.6 356 1319.6 352 1319.7 348 1319.7 344 1319.8 340 1319.8 336 1319.8 332 1319.8 328 1319.9 324 1319.9 320 1319.9 316 1320 312 1320 308 1320.1 304 1320.1 300 1320.2 296 1320.3 292 1320.3 288 1320.4 284 1320.6 280 1320.7 276 1320.8 272 1321 268 1321.1 264 1321.3 260 1321.5 256 1321.7 252 1322 248 1322.2ZM753.8 1156.6 757.8 1152.7 761.8 1148.6 765.8 1144.3 769.8 1139.9 773.8 1135.2 777.8 1130.2 781.8 1125.1 785.8 1119.6 789.8 1113.9 793.8 1107.9 797.8 1101.6 801.8 1094.9 805.8 1087.9 809.8 1080.5 813.8 1072.8 817.8 1064.6 821.8 1056.1 825.8 1047 829.8 1037.6 833.8 1027.6 837.8 1017.3 841.8 1006.6 845.8 995.8 849.8 984.9 853.8 974 857.8 963.2 861.8 952.7 865.8 942.4 869.8 932.3 873.8 922.4 877.8 912.8 881.8 903.3 885.8 893.9 889.8 884.7 893.8 875.5 897.8 866.5 901.8 857.4 905.8 848.4 909.8 839.5 913.8 830.6 917.8 821.7 921.8 812.9 925.8 804.1 929.8 795.4 933.8 786.7 937.8 778.1 941.8 769.5 945.8 761 949.8 752.6 953.8 744.3 957.8 736 961.8 727.8 965.8 719.7 969.8 711.7 973.8 703.7 977.8 695.8 981.8 687.9 985.8 680 989.8 672.1 993.8 664.1 997.8 656 1001.8 647.8 1005.8 639.4 1009.8 630.9 1013.8 622.1 1017.8 613.2 1021.8 604 1025.8 594.5 1029.8 584.7 1033.8 574.6 1037.8 564.1 1041.8 553.2 1045.8 541.9 1049.8 530.2 1053.8 518 1057.8 505.3 1061.8 492.1 1065.8 478.4 1069.8 464.3 1073.8 449.6 1077.8 434.5 1081.8 418.9 1085.8 402.8 1089.8 386.2 1093.8 369.3 1097.8 353.5 1101.8 340.5 1105.8 330.6 1109.8 322.9 1113.8 316.8 1117.8 311.5 1121.8 307.8 1126.2 307.8 1122.2 311.5 1118.2 316.8 1114.2 322.9 1110.2 330.6 1106.2 340.5 1102.2 353.5 1098.2 369.3 1094.2 386.2 1090.2 402.8 1086.2 418.9 1082.2 434.5 1078.2 449.6 1074.2 464.3 1070.2 478.4 1066.2 492.1 1062.2 505.3 1058.2 518 1054.2 530.2 1050.2 541.9 1046.2 553.2 1042.2 564.1 1038.2 574.6 1034.2 584.7 1030.2 594.5 1026.2 604 1022.2 613.2 1018.2 622.1 1014.2 630.9 1010.2 639.4 1006.2 647.8 1002.2 656 998.2 664.1 994.2 672.1 990.2 680 986.2 687.9 982.2 695.8 978.2 703.7 974.2 711.7 970.2 719.7 966.2 727.8 962.2 736 958.2 744.3 954.2 752.6 950.2 761 946.2 769.5 942.2 778.1 938.2 786.7 934.2 795.4 930.2 804.1 926.2 812.9 922.2 821.7 918.2 830.6 914.2 839.5 910.2 848.4 906.2 857.4 902.2 866.5 898.2 875.5 894.2 884.7 890.2 893.9 886.2 903.3 882.2 912.8 878.2 922.4 874.2 932.3 870.2 942.4 866.2 952.7 862.2 963.2 858.2 974 854.2 984.9 850.2 995.8 846.2 1006.6 842.2 1017.3 838.2 1027.6 834.2 1037.6 830.2 1047 826.2 1056.1 822.2 1064.6 818.2 1072.8 814.2 1080.5 810.2 1087.9 806.2 1094.9 802.2 1101.6 798.2 1107.9 794.2 1113.9 790.2 1119.6 786.2 1125.1 782.2 1130.2 778.2 1135.2 774.2 1139.9 770.2 1144.3 766.2 1148.6 762.2 1152.7 758.2 1156.6ZM1116 314.5 1120 309.3 1124 305.6 1128 305.2 1132 307.5 1136 311.6 1136 316.1 1132 312 1128 309.7 1124 310.1 1120 313.8 1116 319ZM1130.2 307.4 1134.2 309.7 1138.2 313.9 1142.2 319.1 1146.2 324.6 1150.2 330.5 1154.2 336.6 1158.2 343 1162.2 349.8 1166.2 357 1170.2 364.5 1174.2 372.5 1178.2 380.8 1182.2 389.6 1186.2 398.7 1190.2 408.2 1194.2 418 1198.2 428.2 1202.2 438.8 1206.2 449.8 1210.2 461.1 1214.2 472.7 1218.2 484.7 1222.2 497 1226.2 509.7 1230.2 522.7 1234.2 536 1238.2 549.6 1242.2 563.5 1246.2 577.8 1250.2 592.3 1254.2 607.2 1258.2 622.3 1262.2 637.8 1266.2 653.5 1270.2 669.5 1274.2 685.8 1278.2 702.2 1282.2 718.9 1286.2 735.7 1290.2 752.6 1294.2 769.5 1298.2 786.5 1302.2 803.5 1306.2 820.4 1310.2 837.3 1314.2 854 1318.2 870.6 1322.2 887 1326.2 903.1 1330.2 919 1334.2 934.5 1338.2 949.8 1342.2 964.6 1346.2 979 1350.2 993 1354.2 1006.4 1358.2 1019.3 1362.2 1031.6 1366.2 1043 1370.2 1053.6 1374.2 1063.3 1378.2 1071.9 1382.2 1079.5 1386.2 1086.2 1390.2 1092.3 1394.2 1097.7 1398.2 1102.7 1402.2 1107.4 1406.2 1111.9 1410.2 1116.3 1414.2 1120.7 1418.2 1125.1 1422.2 1129.4 1426.2 1133.6 1430.2 1137.8 1434.2 1142 1438.2 1146.1 1442.2 1150.2 1446.2 1154.2 1450.2 1158.2 1445.8 1158.2 1441.8 1154.2 1437.8 1150.2 1433.8 1146.1 1429.8 1142 1425.8 1137.8 1421.8 1133.6 1417.8 1129.4 1413.8 1125.1 1409.8 1120.7 1405.8 1116.3 1401.8 1111.9 1397.8 1107.4 1393.8 1102.7 1389.8 1097.7 1385.8 1092.3 1381.8 1086.2 1377.8 1079.5 1373.8 1071.9 1369.8 1063.3 1365.8 1053.6 1361.8 1043 1357.8 1031.6 1353.8 1019.3 1349.8 1006.4 1345.8 993 1341.8 979 1337.8 964.6 1333.8 949.8 1329.8 934.5 1325.8 919 1321.8 903.1 1317.8 887 1313.8 870.6 1309.8 854 1305.8 837.3 1301.8 820.4 1297.8 803.5 1293.8 786.5 1289.8 769.5 1285.8 752.6 1281.8 735.7 1277.8 718.9 1273.8 702.2 1269.8 685.8 1265.8 669.5 1261.8 653.5 1257.8 637.8 1253.8 622.3 1249.8 607.2 1245.8 592.3 1241.8 577.8 1237.8 563.5 1233.8 549.6 1229.8 536 1225.8 522.7 1221.8 509.7 1217.8 497 1213.8 484.7 1209.8 472.7 1205.8 461.1 1201.8 449.8 1197.8 438.8 1193.8 428.2 1189.8 418 1185.8 408.2 1181.8 398.7 1177.8 389.6 1173.8 380.8 1169.8 372.5 1165.8 364.5 1161.8 357 1157.8 349.8 1153.8 343 1149.8 336.6 1145.8 330.5 1141.8 324.6 1137.8 319.1 1133.8 313.9 1129.8 309.7 1125.8 307.4ZM1440 1147.9 1444 1151.9 1448 1155.9 1452 1159.9 1456 1163.8 1460 1167.6 1464 1171.4 1468 1175.2 1472 1178.9 1476 1182.5 1480 1186.1 1484 1189.7 1488 1193.2 1492 1196.7 1496 1200.2 1500 1203.6 1504 1206.9 1508 1210.2 1512 1213.4 1516 1216.6 1520 1219.8 1524 1222.9 1528 1226 1532 1229 1536 1232 1540 1234.9 1544 1237.7 1548 1240.6 1552 1243.4 1556 1246.1 1560 1248.8 1564 1251.4 1568 1254 1572 1256.5 1576 1259 1580 1261.5 1584 1263.8 1588 1266.2 1592 1268.5 1596 1270.7 1600 1272.9 1604 1275.1 1608 1277.2 1612 1279.2 1616 1281.2 1620 1283.2 1624 1285.1 1628 1287 1632 1288.8 1636 1290.5 1640 1292.2 1644 1293.9 1648 1295.5 1652 1297 1656 1298.6 1660 1300 1664 1301.5 1668 1302.8 1672 1304.2 1676 1305.5 1680 1306.7 1684 1307.9 1688 1309.1 1692 1310.2 1696 1311.3 1700 1312.4 1704 1313.4 1708 1314.4 1712 1315.3 1716 1316.2 1720 1317.1 1724 1317.9 1728 1318.7 1732 1319.5 1736 1320.2 1740 1320.9 1744 1321.6 1748 1322.3 1752 1322.9 1756 1323.5 1760 1324 1764 1324.5 1768 1325 1772 1325.5 1776 1326 1780 1326.4 1784 1326.8 1788 1327.2 1792 1327.6 1796 1327.9 1800 1328.2 1804 1328.5 1808 1328.8 1812 1329.1 1816 1329.3 1820 1329.5 1824 1329.7 1828 1329.9 1832 1330.1 1836 1330.3 1840 1330.4 1844 1330.6 1848 1330.7 1852 1330.8 1856 1330.9 1860 1331 1864 1331.1 1868 1331.2 1872 1331.2 1876 1331.3 1880 1331.4 1884 1331.4 1888 1331.4 1892 1331.5 1896 1331.5 1900 1331.5 1904 1331.6 1908 1331.6 1912 1331.6 1916 1331.7 1920 1331.7 1924 1331.7 1928 1331.7 1932 1331.8 1936 1331.8 1940 1331.9 1944 1331.9 1948 1332 1952 1332 1956 1332.1 1960 1332.2 1964 1332.2 1968 1332.3 1972 1332.4 1976 1332.5 1980 1332.7 1984 1332.8 1988 1332.9 1992 1333.1 1996 1333.3 2000 1333.5 2004 1333.7 2008 1333.9 2012 1334.1 2016 1334.4 2020 1334.7 2024 1335 2028 1335.3 2032 1335.6 2036 1336 2038 1336 2038 1340.5 2036 1340.5 2032 1340.1 2028 1339.8 2024 1339.5 2020 1339.2 2016 1338.9 2012 1338.6 2008 1338.4 2004 1338.2 2000 1338 1996 1337.8 1992 1337.6 1988 1337.4 1984 1337.3 1980 1337.2 1976 1337 1972 1336.9 1968 1336.8 1964 1336.7 1960 1336.7 1956 1336.6 1952 1336.5 1948 1336.5 1944 1336.4 1940 1336.4 1936 1336.3 1932 1336.3 1928 1336.2 1924 1336.2 1920 1336.2 1916 1336.2 1912 1336.1 1908 1336.1 1904 1336.1 1900 1336 1896 1336 1892 1336 1888 1335.9 1884 1335.9 1880 1335.9 1876 1335.8 1872 1335.7 1868 1335.7 1864 1335.6 1860 1335.5 1856 1335.4 1852 1335.3 1848 1335.2 1844 1335.1 1840 1334.9 1836 1334.8 1832 1334.6 1828 1334.4 1824 1334.2 1820 1334 1816 1333.8 1812 1333.6 1808 1333.3 1804 1333 1800 1332.7 1796 1332.4 1792 1332.1 1788 1331.7 1784 1331.3 1780 1330.9 1776 1330.5 1772 1330 1768 1329.5 1764 1329 1760 1328.5 1756 1328 1752 1327.4 1748 1326.8 1744 1326.1 1740 1325.4 1736 1324.7 1732 1324 1728 1323.2 1724 1322.4 1720 1321.6 1716 1320.7 1712 1319.8 1708 1318.9 1704 1317.9 1700 1316.9 1696 1315.8 1692 1314.7 1688 1313.6 1684 1312.4 1680 1311.2 1676 1310 1672 1308.7 1668 1307.3 1664 1306 1660 1304.5 1656 1303.1 1652 1301.5 1648 1300 1644 1298.4 1640 1296.7 1636 1295 1632 1293.3 1628 1291.5 1624 1289.6 1620 1287.7 1616 1285.7 1612 1283.7 1608 1281.7 1604 1279.6 1600 1277.4 1596 1275.2 1592 1273 1588 1270.7 1584 1268.3 1580 1266 1576 1263.5 1572 1261 1568 1258.5 1564 1255.9 1560 1253.3 1556 1250.6 1552 1247.9 1548 1245.1 1544 1242.2 1540 1239.4 1536 1236.5 1532 1233.5 1528 1230.5 1524 1227.4 1520 1224.3 1516 1221.1 1512 1217.9 1508 1214.7 1504 1211.4 1500 1208.1 1496 1204.7 1492 1201.2 1488 1197.7 1484 1194.2 1480 1190.6 1476 1187 1472 1183.4 1468 1179.7 1464 1175.9 1460 1172.1 1456 1168.3 1452 1164.4 1448 1160.4 1444 1156.4 1440 1152.4Z" fill="#ff0000" stroke="none"/>
<path d="M248 1311.2 252 1311.7 256 1312.2 260 1312.6 264 1312.9 268 1313.2 272 1313.5 276 1313.6 280 1313.8 284 1313.9 288 1313.9 292 1313.9 296 1313.9 300 1313.8 304 1313.7 308 1313.6 312 1313.4 316 1313.2 320 1313 324 1312.7 328 1312.5 332 1312.2 336 1311.9 340 1311.5 344 1311.2 348 1310.9 352 1310.5 356 1310.1 360 1309.8 364 1309.4 368 1309.1 372 1308.7 376 1308.4 380 1308 384 1307.7 388 1307.4 392 1307.1 396 1306.8 400 1306.5 404 1306.3 408 1306 412 1305.8 416 1305.5 420 1305.3 424 1305.1 428 1304.9 432 1304.6 436 1304.4 440 1304.2 444 1304 448 1303.8 452 1303.5 456 1303.3 460 1303 464 1302.8 468 1302.5 472 1302.2 476 1302 480 1301.7 484 1301.3 488 1301 492 1300.6 496 1300.3 500 1299.9 504 1299.4 508 1299 512 1298.5 516 1298 520 1297.5 524 1296.9 528 1296.4 532 1295.7 536 1295.1 540 1294.4 544 1293.7 548 1293 552 1292.2 556 1291.4 560 1290.6 564 1289.7 568 1288.8 572 1287.9 576 1286.9 580 1285.9 584 1284.8 588 1283.7 592 1282.5 596 1281.3 600 1280.1 604 1278.8 608 1277.5 612 1276.1 616 1274.7 620 1273.2 624 1271.7 628 1270.2 632 1268.5 636 1266.9 640 1265.2 644 1263.4 648 1261.6 652 1259.7 656 1257.8 660 1255.8 664 1253.8 668 1251.8 672 1249.7 676 1247.5 680 1245.3 684 1243.1 688 1240.8 692 1238.5 696 1236.2 700 1233.7 704 1231.3 708 1228.8 712 1226.3 716 1223.7 720 1221.1 724 1218.4 728 1215.7 732 1213 736 1210.3 740 1207.4 744 1204.6 748 1201.6 752 1198.5 756 1195.4 760 1192.1 764 1188.6 768 1185 772 1181.2 776 1177.2 776 1181.7 772 1185.7 768 1189.5 764 1193.1 760 1196.6 756 1199.9 752 1203 748 1206.1 744 1209.1 740 1211.9 736 1214.8 732 1217.5 728 1220.2 724 1222.9 720 1225.6 716 1228.2 712 1230.8 708 1233.3 704 1235.8 700 1238.2 696 1240.7 692 1243 688 1245.3 684 1247.6 680 1249.8 676 1252 672 1254.2 668 1256.3 664 1258.3 660 1260.3 656 1262.3 652 1264.2 648 1266.1 644 1267.9 640 1269.7 636 1271.4 632 1273 628 1274.7 624 1276.2 620 1277.7 616 1279.2 612 1280.6 608 1282 604 1283.3 600 1284.6 596 1285.8 592 1287 588 1288.2 584 1289.3 580 1290.4 576 1291.4 572 1292.4 568 1293.3 564 1294.2 560 1295.1 556 1295.9 552 1296.7 548 1297.5 544 1298.2 540 1298.9 536 1299.6 532 1300.2 528 1300.9 524 1301.4 520 1302 516 1302.5 512 1303 508 1303.5 504 1303.9 500 1304.4 496 1304.8 492 1305.1 488 1305.5 484 1305.8 480 1306.2 476 1306.5 472 1306.7 468 1307 464 1307.3 460 1307.5 456 1307.8 452 1308 448 1308.3 444 1308.5 440 1308.7 436 1308.9 432 1309.1 428 1309.4 424 1309.6 420 1309.8 416 1310 412 1310.3 408 1310.5 404 1310.8 400 1311 396 1311.3 392 1311.6 388 1311.9 384 1312.2 380 1312.5 376 1312.9 372 1313.2 368 1313.6 364 1313.9 360 1314.3 356 1314.6 352 1315 348 1315.4 344 1315.7 340 1316 336 1316.4 332 1316.7 328 1317 324 1317.2 320 1317.5 316 1317.7 312 1317.9 308 1318.1 304 1318.2 300 1318.3 296 1318.4 292 1318.4 288 1318.4 284 1318.4 280 1318.3 276 1318.1 272 1318 268 1317.7 264 1317.4 260 1317.1 256 1316.7 252 1316.2 248 1315.7ZM765.8 1187.2 769.8 1183.4 773.8 1179.4 777.8 1175.2 781.8 1170.7 785.8 1166 789.8 1161 793.8 1155.7 797.8 1150.1 801.8 1144.1 805.8 1137.8 809.8 1131 813.8 1123.7 817.8 1115.8 821.8 1107.3 825.8 1098.1 829.8 1088.3 833.8 1078.1 837.8 1067.5 841.8 1056.6 845.8 1045.6 849.8 1034.4 853.8 1023.3 857.8 1012.4 861.8 1001.6 865.8 991.2 869.8 981.2 873.8 971.5 877.8 962.1 881.8 952.9 885.8 944 889.8 935.1 893.8 926.4 897.8 917.8 901.8 909.1 905.8 900.5 909.8 891.8 913.8 882.9 917.8 874 921.8 864.9 925.8 855.6 929.8 846.4 933.8 837.1 937.8 827.9 941.8 818.8 945.8 809.8 949.8 800.8 953.8 791.9 957.8 783 961.8 774.2 965.8 765.3 969.8 756.5 973.8 747.7 977.8 738.8 981.8 729.9 985.8 720.9 989.8 711.8 993.8 702.7 997.8 693.5 1001.8 684.1 1005.8 674.6 1009.8 665 1013.8 655.3 1017.8 645.3 1021.8 635.2 1025.8 624.8 1029.8 614.2 1033.8 603.3 1037.8 592.1 1041.8 580.5 1045.8 568.4 1049.8 555.9 1053.8 542.8 1057.8 529.3 1061.8 515.1 1065.8 500.4 1069.8 485.1 1073.8 469.2 1077.8 452.6 1081.8 435.4 1085.8 417.7 1089.8 399.8 1093.8 382.1 1097.8 365.1 1101.8 349.2 1105.8 334.9 1109.8 322.7 1113.8 313 1117.8 305.9 1121.8 301 1125.8 298.1 1130.2 298.1 1126.2 301 1122.2 305.9 1118.2 313 1114.2 322.7 1110.2 334.9 1106.2 349.2 1102.2 365.1 1098.2 382.1 1094.2 399.8 1090.2 417.7 1086.2 435.4 1082.2 452.6 1078.2 469.2 1074.2 485.1 1070.2 500.4 1066.2 515.1 1062.2 529.3 1058.2 542.8 1054.2 555.9 1050.2 568.4 1046.2 580.5 1042.2 592.1 1038.2 603.3 1034.2 614.2 1030.2 624.8 1026.2 635.2 1022.2 645.3 1018.2 655.3 1014.2 665 1010.2 674.6 1006.2 684.1 1002.2 693.5 998.2 702.7 994.2 711.8 990.2 720.9 986.2 729.9 982.2 738.8 978.2 747.7 974.2 756.5 970.2 765.3 966.2 774.2 962.2 783 958.2 791.9 954.2 800.8 950.2 809.8 946.2 818.8 942.2 827.9 938.2 837.1 934.2 846.4 930.2 855.6 926.2 864.9 922.2 874 918.2 882.9 914.2 891.8 910.2 900.5 906.2 909.1 902.2 917.8 898.2 926.4 894.2 935.1 890.2 944 886.2 952.9 882.2 962.1 878.2 971.5 874.2 981.2 870.2 991.2 866.2 1001.6 862.2 1012.4 858.2 1023.3 854.2 1034.4 850.2 1045.6 846.2 1056.6 842.2 1067.5 838.2 1078.1 834.2 1088.3 830.2 1098.1 826.2 1107.3 822.2 1115.8 818.2 1123.7 814.2 1131 810.2 1137.8 806.2 1144.1 802.2 1150.1 798.2 1155.7 794.2 1161 790.2 1166 786.2 1170.7 782.2 1175.2 778.2 1179.4 774.2 1183.4 770.2 1187.2ZM1120 303.6 1124 298.7 1128 295.9 1132 294.9 1136 295.5 1140 297.4 1144 300.5 1148 304.6 1148 309.1 1144 305 1140 301.9 1136 300 1132 299.4 1128 300.4 1124 303.2 1120 308.1ZM1142.2 299.7 1146.2 302.8 1150.2 306.8 1154.2 311.6 1158.2 316.8 1162.2 322.3 1166.2 327.9 1170.2 333.7 1174.2 339.8 1178.2 346.3 1182.2 353.1 1186.2 360.4 1190.2 368.2 1194.2 376.5 1198.2 385.3 1202.2 394.7 1206.2 404.5 1210.2 414.7 1214.2 425.2 1218.2 436.2 1222.2 447.5 1226.2 459.3 1230.2 471.4 1234.2 483.9 1238.2 496.8 1242.2 510 1246.2 523.7 1250.2 537.8 1254.2 552.2 1258.2 567.1 1262.2 582.4 1266.2 598 1270.2 614.1 1274.2 630.5 1278.2 647.2 1282.2 664.3 1286.2 681.5 1290.2 699 1294.2 716.6 1298.2 734.3 1302.2 752 1306.2 769.8 1310.2 787.5 1314.2 805.1 1318.2 822.6 1322.2 840 1326.2 857.1 1330.2 874 1334.2 890.5 1338.2 906.8 1342.2 922.6 1346.2 937.9 1350.2 952.8 1354.2 967.2 1358.2 981 1362.2 994.1 1366.2 1006.6 1370.2 1018.4 1374.2 1029.3 1378.2 1039.4 1382.2 1048.6 1386.2 1056.9 1390.2 1064.6 1394.2 1071.6 1398.2 1078 1402.2 1084 1406.2 1089.6 1410.2 1094.9 1414.2 1099.9 1418.2 1104.6 1422.2 1109.2 1426.2 1113.5 1430.2 1117.8 1434.2 1121.9 1438.2 1125.9 1442.2 1129.9 1437.8 1129.9 1433.8 1125.9 1429.8 1121.9 1425.8 1117.8 1421.8 1113.5 1417.8 1109.2 1413.8 1104.6 1409.8 1099.9 1405.8 1094.9 1401.8 1089.6 1397.8 1084 1393.8 1078 1389.8 1071.6 1385.8 1064.6 1381.8 1056.9 1377.8 1048.6 1373.8 1039.4 1369.8 1029.3 1365.8 1018.4 1361.8 1006.6 1357.8 994.1 1353.8 981 1349.8 967.2 1345.8 952.8 1341.8 937.9 1337.8 922.6 1333.8 906.8 1329.8 890.5 1325.8 874 1321.8 857.1 1317.8 840 1313.8 822.6 1309.8 805.1 1305.8 787.5 1301.8 769.8 1297.8 752 1293.8 734.3 1289.8 716.6 1285.8 699 1281.8 681.5 1277.8 664.3 1273.8 647.2 1269.8 630.5 1265.8 614.1 1261.8 598 1257.8 582.4 1253.8 567.1 1249.8 552.2 1245.8 537.8 1241.8 523.7 1237.8 510 1233.8 496.8 1229.8 483.9 1225.8 471.4 1221.8 459.3 1217.8 447.5 1213.8 436.2 1209.8 425.2 1205.8 414.7 1201.8 404.5 1197.8 394.7 1193.8 385.3 1189.8 376.5 1185.8 368.2 1181.8 360.4 1177.8 353.1 1173.8 346.3 1169.8 339.8 1165.8 333.7 1161.8 327.9 1157.8 322.3 1153.8 316.8 1149.8 311.6 1145.8 306.8 1141.8 302.8 1137.8 299.7ZM1432 1119.6 1436 1123.7 1440 1127.6 1444 1131.6 1448 1135.6 1452 1139.6 1452 1144.1 1448 1140.1 1444 1136.1 1440 1132.1 1436 1128.2 1432 1124.1ZM1446.2 1133.9 1450.2 1137.8 1454.2 1141.9 1458.2 1146 1462.2 1150.1 1466.2 1154.3 1470.2 1158.5 1474.2 1162.7 1478.2 1166.9 1482.2 1171.1 1486.2 1175.2 1490.2 1179.3 1494.2 1183.4 1498.2 1187.4 1493.8 1187.4 1489.8 1183.4 1485.8 1179.3 1481.8 1175.2 1477.8 1171.1 1473.8 1166.9 1469.8 1162.7 1465.8 1158.5 1461.8 1154.3 1457.8 1150.1 1453.8 1146 1449.8 1141.9 1445.8 1137.8 1441.8 1133.9ZM1488 1177.1 1492 1181.1 1496 1185.1 1500 1189 1504 1192.9 1508 1196.7 1512 1200.4 1516 1204.1 1520 1207.7 1524 1211.3 1528 1214.7 1532 1218.2 1536 1221.5 1540 1224.8 1544 1228.1 1548 1231.2 1552 1234.4 1556 1237.4 1560 1240.4 1564 1243.3 1568 1246.2 1572 1249 1576 1251.8 1580 1254.5 1584 1257.1 1588 1259.6 1592 1262.2 1596 1264.6 1600 1267 1604 1269.3 1608 1271.6 1612 1273.8 1616 1275.9 1620 1278 1624 1280 1628 1282 1632 1283.9 1636 1285.7 1640 1287.5 1644 1289.3 1648 1290.9 1652 1292.6 1656 1294.2 1660 1295.7 1664 1297.2 1668 1298.6 1672 1300 1676 1301.3 1680 1302.6 1684 1303.8 1688 1305 1692 1306.2 1696 1307.3 1700 1308.3 1704 1309.4 1708 1310.4 1712 1311.3 1716 1312.2 1720 1313.1 1724 1313.9 1728 1314.7 1732 1315.5 1736 1316.2 1740 1316.9 1744 1317.6 1748 1318.3 1752 1318.9 1756 1319.5 1760 1320 1764 1320.5 1768 1321 1772 1321.5 1776 1322 1780 1322.4 1784 1322.8 1788 1323.2 1792 1323.6 1796 1324 1800 1324.3 1804 1324.6 1808 1324.9 1812 1325.2 1816 1325.5 1820 1325.8 1824 1326 1828 1326.3 1832 1326.5 1836 1326.7 1840 1326.9 1844 1327.1 1848 1327.3 1852 1327.5 1856 1327.7 1860 1327.9 1864 1328.1 1868 1328.3 1872 1328.5 1876 1328.7 1880 1328.8 1884 1329 1888 1329.2 1892 1329.4 1896 1329.5 1900 1329.7 1904 1329.9 1908 1330 1912 1330.2 1916 1330.4 1920 1330.5 1924 1330.7 1928 1330.8 1932 1331 1936 1331.1 1940 1331.3 1944 1331.4 1948 1331.5 1952 1331.7 1956 1331.8 1960 1331.9 1964 1332.1 1968 1332.2 1972 1332.3 1976 1332.4 1980 1332.5 1984 1332.6 1988 1332.7 1992 1332.8 1996 1332.9 2000 1333 2004 1333.1 2008 1333.2 2012 1333.2 2016 1333.3 2020 1333.4 2024 1333.5 2028 1333.5 2032 1333.6 2036 1333.6 2038 1333.6 2038 1338.1 2036 1338.1 2032 1338.1 2028 1338 2024 1338 2020 1337.9 2016 1337.8 2012 1337.7 2008 1337.7 2004 1337.6 2000 1337.5 1996 1337.4 1992 1337.3 1988 1337.2 1984 1337.1 1980 1337 1976 1336.9 1972 1336.8 1968 1336.7 1964 1336.6 1960 1336.4 1956 1336.3 1952 1336.2 1948 1336 1944 1335.9 1940 1335.8 1936 1335.6 1932 1335.5 1928 1335.3 1924 1335.2 1920 1335 1916 1334.9 1912 1334.7 1908 1334.5 1904 1334.4 1900 1334.2 1896 1334 1892 1333.9 1888 1333.7 1884 1333.5 1880 1333.3 1876 1333.2 1872 1333 1868 1332.8 1864 1332.6 1860 1332.4 1856 1332.2 1852 1332 1848 1331.8 1844 1331.6 1840 1331.4 1836 1331.2 1832 1331 1828 1330.8 1824 1330.5 1820 1330.3 1816 1330 1812 1329.7 1808 1329.4 1804 1329.1 1800 1328.8 1796 1328.5 1792 1328.1 1788 1327.7 1784 1327.3 1780 1326.9 1776 1326.5 1772 1326 1768 1325.5 1764 1325 1760 1324.5 1756 1324 1752 1323.4 1748 1322.8 1744 1322.1 1740 1321.4 1736 1320.7 1732 1320 1728 1319.2 1724 1318.4 1720 1317.6 1716 1316.7 1712 1315.8 1708 1314.9 1704 1313.9 1700 1312.8 1696 1311.8 1692 1310.7 1688 1309.5 1684 1308.3 1680 1307.1 1676 1305.8 1672 1304.5 1668 1303.1 1664 1301.7 1660 1300.2 1656 1298.7 1652 1297.1 1648 1295.4 1644 1293.8 1640 1292 1636 1290.2 1632 1288.4 1628 1286.5 1624 1284.5 1620 1282.5 1616 1280.4 1612 1278.3 1608 1276.1 1604 1273.8 1600 1271.5 1596 1269.1 1592 1266.7 1588 1264.1 1584 1261.6 1580 1259 1576 1256.3 1572 1253.5 1568 1250.7 1564 1247.8 1560 1244.9 1556 1241.9 1552 1238.9 1548 1235.7 1544 1232.6 1540 1229.3 1536 1226 1532 1222.7 1528 1219.2 1524 1215.8 1520 1212.2 1516 1208.6 1512 1204.9 1508 1201.2 1504 1197.4 1500 1193.5 1496 1189.6 1492 1185.6 1488 1181.6Z" fill="#00ff00" stroke="none"/>
<path d="M248 1316.2 252 1316 256 1315.7 260 1315.5 264 1315.4 268 1315.2 272 1315 276 1314.9 280 1314.7 284 1314.6 288 1314.5 292 1314.4 296 1314.3 300 1314.2 304 1314.1 308 1314 312 1313.9 316 1313.9 320 1313.8 324 1313.7 328 1313.7 332 1313.6 336 1313.6 340 1313.5 344 1313.5 348 1313.4 352 1313.3 356 1313.3 360 1313.2 364 1313.2 368 1313.1 372 1313.1 376 1313 380 1312.9 384 1312.9 388 1312.8 392 1312.7 396 1312.6 400 1312.5 404 1312.4 408 1312.3 412 1312.2 416 1312.1 420 1311.9 424 1311.8 428 1311.6 432 1311.5 436 1311.3 440 1311.1 444 1310.9 448 1310.7 452 1310.4 456 1310.2 460 1309.9 464 1309.6 468 1309.3 472 1309 476 1308.7 480 1308.3 484 1308 488 1307.6 492 1307.2 496 1306.7 500 1306.3 504 1305.8 508 1305.3 512 1304.8 516 1304.3 520 1303.7 524 1303.1 528 1302.5 532 1301.9 536 1301.2 540 1300.5 544 1299.8 548 1299 552 1298.3 556 1297.5 560 1296.6 564 1295.8 568 1294.9 572 1294 576 1293 580 1292 584 1291 588 1289.9 592 1288.9 596 1287.7 600 1286.6 604 1285.4 608 1284.1 612 1282.9 616 1281.6 620 1280.2 624 1278.8 628 1277.4 632 1276 636 1274.5 640 1272.9 644 1271.3 648 1269.7 652 1268 656 1266.3 660 1264.6 664 1262.8 668 1260.9 672 1259 676 1257.1 680 1255.1 684 1253.1 688 1251 692 1248.9 696 1246.7 700 1244.5 704 1242.2 708 1239.9 712 1237.5 716 1235.1 720 1232.6 724 1230.1 728 1227.5 732 1224.9 736 1222.2 740 1219.4 744 1216.6 748 1213.8 752 1210.8 756 1207.9 760 1204.8 764 1201.7 768 1198.6 772 1195.4 776 1192.1 780 1188.6 784 1185 788 1181 792 1176.8 792 1181.3 788 1185.5 784 1189.5 780 1193.1 776 1196.6 772 1199.9 768 1203.1 764 1206.2 760 1209.3 756 1212.4 752 1215.3 748 1218.3 744 1221.1 740 1223.9 736 1226.7 732 1229.4 728 1232 724 1234.6 720 1237.1 716 1239.6 712 1242 708 1244.4 704 1246.7 700 1249 696 1251.2 692 1253.4 688 1255.5 684 1257.6 680 1259.6 676 1261.6 672 1263.5 668 1265.4 664 1267.3 660 1269.1 656 1270.8 652 1272.5 648 1274.2 644 1275.8 640 1277.4 636 1279 632 1280.5 628 1281.9 624 1283.3 620 1284.7 616 1286.1 612 1287.4 608 1288.6 604 1289.9 600 1291.1 596 1292.2 592 1293.4 588 1294.4 584 1295.5 580 1296.5 576 1297.5 572 1298.5 568 1299.4 564 1300.3 560 1301.1 556 1302 552 1302.8 548 1303.5 544 1304.3 540 1305 536 1305.7 532 1306.4 528 1307 524 1307.6 520 1308.2 516 1308.8 512 1309.3 508 1309.8 504 1310.3 500 1310.8 496 1311.2 492 1311.7 488 1312.1 484 1312.5 480 1312.8 476 1313.2 472 1313.5 468 1313.8 464 1314.1 460 1314.4 456 1314.7 452 1314.9 448 1315.2 444 1315.4 440 1315.6 436 1315.8 432 1316 428 1316.1 424 1316.3 420 1316.4 416 1316.6 412 1316.7 408 1316.8 404 1316.9 400 1317 396 1317.1 392 1317.2 388 1317.3 384 1317.4 380 1317.4 376 1317.5 372 1317.6 368 1317.6 364 1317.7 360 1317.7 356 1317.8 352 1317.8 348 1317.9 344 1318 340 1318 336 1318.1 332 1318.1 328 1318.2 324 1318.2 320 1318.3 316 1318.4 312 1318.4 308 1318.5 304 1318.6 300 1318.7 296 1318.8 292 1318.9 288 1319 284 1319.1 280 1319.2 276 1319.4 272 1319.5 268 1319.7 264 1319.9 260 1320 256 1320.2 252 1320.5 248 1320.7ZM781.8 1187.2 785.8 1183.3 789.8 1179 793.8 1174.4 797.8 1169.3 801.8 1163.7 805.8 1157.5 809.8 1150.7 813.8 1143.2 817.8 1135 821.8 1125.9 825.8 1116.1 829.8 1105.7 833.8 1094.7 837.8 1083.3 841.8 1071.6 845.8 1059.6 849.8 1047.5 853.8 1035.2 857.8 1022.8 861.8 1010.3 865.8 997.9 869.8 985.6 873.8 973.4 877.8 961.4 881.8 949.6 885.8 938 889.8 926.6 893.8 915.3 897.8 904.3 901.8 893.3 905.8 882.5 909.8 871.8 913.8 861.1 917.8 850.6 921.8 840.1 925.8 829.7 929.8 819.3 933.8 808.9 937.8 798.5 941.8 788.1 945.8 777.6 949.8 767.1 953.8 756.6 957.8 745.9 961.8 735.2 965.8 724.5 969.8 713.6 973.8 702.8 977.8 691.8 981.8 680.9 985.8 669.9 989.8 658.9 993.8 647.8 997.8 636.8 1001.8 625.7 1005.8 614.6 1009.8 603.6 1013.8 592.5 1017.8 581.4 1021.8 570.4 1025.8 559.3 1029.8 548 1033.8 536.6 1037.8 525 1041.8 513.2 1045.8 501 1049.8 488.6 1053.8 475.9 1057.8 463 1061.8 449.9 1065.8 436.6 1069.8 423.1 1073.8 409.4 1077.8 395.5 1081.8 381.6 1085.8 367.4 1089.8 353.2 1093.8 338.9 1097.8 324.8 1101.8 311.2 1105.8 298.4 1109.8 286.9 1113.8 276.9 1117.8 268.9 1121.8 263.1 1125.8 259.1 1130.2 259.1 1126.2 263.1 1122.2 268.9 1118.2 276.9 1114.2 286.9 1110.2 298.4 1106.2 311.2 1102.2 324.8 1098.2 338.9 1094.2 353.2 1090.2 367.4 1086.2 381.6 1082.2 395.5 1078.2 409.4 1074.2 423.1 1070.2 436.6 1066.2 449.9 1062.2 463 1058.2 475.9 1054.2 488.6 1050.2 501 1046.2 513.2 1042.2 525 1038.2 536.6 1034.2 548 1030.2 559.3 1026.2 570.4 1022.2 581.4 1018.2 592.5 1014.2 603.6 1010.2 614.6 1006.2 625.7 1002.2 636.8 998.2 647.8 994.2 658.9 990.2 669.9 986.2 680.9 982.2 691.8 978.2 702.8 974.2 713.6 970.2 724.5 966.2 735.2 962.2 745.9 958.2 756.6 954.2 767.1 950.2 777.6 946.2 788.1 942.2 798.5 938.2 808.9 934.2 819.3 930.2 829.7 926.2 840.1 922.2 850.6 918.2 861.1 914.2 871.8 910.2 882.5 906.2 893.3 902.2 904.3 898.2 915.3 894.2 926.6 890.2 938 886.2 949.6 882.2 961.4 878.2 973.4 874.2 985.6 870.2 997.9 866.2 1010.3 862.2 1022.8 858.2 1035.2 854.2 1047.5 850.2 1059.6 846.2 1071.6 842.2 1083.3 838.2 1094.7 834.2 1105.7 830.2 1116.1 826.2 1125.9 822.2 1135 818.2 1143.2 814.2 1150.7 810.2 1157.5 806.2 1163.7 802.2 1169.3 798.2 1174.4 794.2 1179 790.2 1183.3 786.2 1187.2ZM1120 266.7 1124 260.8 1128 256.9 1132 254.6 1136 253.9 1140 254.4 1144 256 1148 258.4 1152 261.6 1156 265.5 1160 270.1 1160 274.6 1156 270 1152 266.1 1148 262.9 1144 260.5 1140 258.9 1136 258.4 1132 259.1 1128 261.4 1124 265.3 1120 271.2ZM1154.2 263.9 1158.2 267.8 1162.2 272.3 1166.2 277.5 1170.2 283.1 1174.2 289.2 1178.2 295.7 1182.2 302.5 1186.2 309.7 1190.2 317.3 1194.2 325.4 1198.2 334 1202.2 343 1206.2 352.5 1210.2 362.6 1214.2 373.3 1218.2 384.5 1222.2 396.4 1226.2 408.9 1230.2 422 1234.2 435.6 1238.2 449.8 1242.2 464.4 1246.2 479.4 1250.2 494.8 1254.2 510.5 1258.2 526.6 1262.2 542.9 1266.2 559.5 1270.2 576.3 1274.2 593.4 1278.2 610.8 1282.2 628.3 1286.2 646 1290.2 663.8 1294.2 681.8 1298.2 699.7 1302.2 717.7 1306.2 735.7 1310.2 753.5 1314.2 771.3 1318.2 789 1322.2 806.4 1326.2 823.7 1330.2 840.6 1334.2 857.3 1338.2 873.6 1342.2 889.6 1346.2 905.2 1350.2 920.3 1354.2 934.9 1358.2 949 1362.2 962.5 1366.2 975.4 1370.2 987.6 1374.2 999.2 1378.2 1010.1 1382.2 1020.2 1386.2 1029.4 1390.2 1037.9 1394.2 1045.5 1398.2 1052.3 1402.2 1058.4 1406.2 1064 1410.2 1069.2 1414.2 1074.1 1418.2 1078.8 1422.2 1083.4 1426.2 1088.1 1430.2 1092.8 1434.2 1097.4 1438.2 1102.1 1442.2 1106.8 1446.2 1111.4 1450.2 1116.1 1454.2 1120.7 1458.2 1125.4 1462.2 1130 1466.2 1134.6 1470.2 1139.1 1474.2 1143.7 1478.2 1148.2 1482.2 1152.6 1486.2 1157.1 1490.2 1161.5 1494.2 1165.8 1498.2 1170.1 1502.2 1174.4 1506.2 1178.6 1510.2 1182.7 1514.2 1186.8 1518.2 1190.8 1522.2 1194.8 1517.8 1194.8 1513.8 1190.8 1509.8 1186.8 1505.8 1182.7 1501.8 1178.6 1497.8 1174.4 1493.8 1170.1 1489.8 1165.8 1485.8 1161.5 1481.8 1157.1 1477.8 1152.6 1473.8 1148.2 1469.8 1143.7 1465.8 1139.1 1461.8 1134.6 1457.8 1130 1453.8 1125.4 1449.8 1120.7 1445.8 1116.1 1441.8 1111.4 1437.8 1106.8 1433.8 1102.1 1429.8 1097.4 1425.8 1092.8 1421.8 1088.1 1417.8 1083.4 1413.8 1078.8 1409.8 1074.1 1405.8 1069.2 1401.8 1064 1397.8 1058.4 1393.8 1052.3 1389.8 1045.5 1385.8 1037.9 1381.8 1029.4 1377.8 1020.2 1373.8 1010.1 1369.8 999.2 1365.8 987.6 1361.8 975.4 1357.8 962.5 1353.8 949 1349.8 934.9 1345.8 920.3 1341.8 905.2 1337.8 889.6 1333.8 873.6 1329.8 857.3 1325.8 840.6 1321.8 823.7 1317.8 806.4 1313.8 789 1309.8 771.3 1305.8 753.5 1301.8 735.7 1297.8 717.7 1293.8 699.7 1289.8 681.8 1285.8 663.8 1281.8 646 1277.8 628.3 1273.8 610.8 1269.8 593.4 1265.8 576.3 1261.8 559.5 1257.8 542.9 1253.8 526.6 1249.8 510.5 1245.8 494.8 1241.8 479.4 1237.8 464.4 1233.8 449.8 1229.8 435.6 1225.8 422 1221.8 408.9 1217.8 396.4 1213.8 384.5 1209.8 373.3 1205.8 362.6 1201.8 352.5 1197.8 343 1193.8 334 1189.8 325.4 1185.8 317.3 1181.8 309.7 1177.8 302.5 1173.8 295.7 1169.8 289.2 1165.8 283.1 1161.8 277.5 1157.8 272.3 1153.8 267.8 1149.8 263.9ZM1512 1184.6 1516 1188.6 1520 1192.6 1524 1196.5 1528 1200.4 1532 1204.2 1536 1207.9 1540 1211.6 1544 1215.2 1548 1218.8 1552 1222.3 1556 1225.7 1560 1229.1 1564 1232.4 1568 1235.7 1572 1238.9 1576 1242 1580 1245 1584 1248 1588 1251 1592 1253.8 1596 1256.6 1600 1259.3 1604 1262 1608 1264.5 1612 1267 1616 1269.5 1620 1271.8 1624 1274.1 1628 1276.3 1632 1278.5 1636 1280.6 1640 1282.6 1644 1284.5 1648 1286.4 1652 1288.2 1656 1290 1660 1291.7 1664 1293.3 1668 1294.9 1672 1296.4 1676 1297.8 1680 1299.2 1684 1300.6 1688 1301.9 1692 1303.1 1696 1304.3 1700 1305.5 1704 1306.6 1708 1307.6 1712 1308.6 1716 1309.6 1720 1310.5 1724 1311.4 1728 1312.3 1732 1313.1 1736 1313.8 1740 1314.6 1744 1315.3 1748 1315.9 1752 1316.5 1756 1317.1 1760 1317.7 1764 1318.2 1768 1318.8 1772 1319.2 1776 1319.7 1780 1320.1 1784 1320.5 1788 1320.9 1792 1321.3 1796 1321.7 1800 1322 1804 1322.3 1808 1322.6 1812 1322.9 1816 1323.2 1820 1323.4 1824 1323.7 1828 1323.9 1832 1324.2 1836 1324.4 1840 1324.6 1844 1324.9 1848 1325.1 1852 1325.3 1856 1325.5 1860 1325.7 1864 1326 1868 1326.2 1872 1326.4 1876 1326.6 1880 1326.9 1884 1327.1 1888 1327.3 1892 1327.6 1896 1327.8 1900 1328 1904 1328.3 1908 1328.5 1912 1328.7 1916 1329 1920 1329.2 1924 1329.4 1928 1329.6 1932 1329.8 1936 1330 1940 1330.2 1944 1330.4 1948 1330.6 1952 1330.8 1956 1331 1960 1331.2 1964 1331.3 1968 1331.5 1972 1331.6 1976 1331.8 1980 1331.9 1984 1332 1988 1332.1 1992 1332.2 1996 1332.3 2000 1332.4 2004 1332.4 2008 1332.5 2012 1332.5 2016 1332.5 2020 1332.6 2024 1332.6 2028 1332.5 2032 1332.5 2036 1332.5 2038 1332.5 2038 1337 2036 1337 2032 1337 2028 1337 2024 1337.1 2020 1337.1 2016 1337 2012 1337 2008 1337 2004 1336.9 2000 1336.9 1996 1336.8 1992 1336.7 1988 1336.6 1984 1336.5 1980 1336.4 1976 1336.3 1972 1336.1 1968 1336 1964 1335.8 1960 1335.7 1956 1335.5 1952 1335.3 1948 1335.1 1944 1334.9 1940 1334.7 1936 1334.5 1932 1334.3 1928 1334.1 1924 1333.9 1920 1333.7 1916 1333.5 1912 1333.2 1908 1333 1904 1332.8 1900 1332.5 1896 1332.3 1892 1332.1 1888 1331.8 1884 1331.6 1880 1331.4 1876 1331.1 1872 1330.9 1868 1330.7 1864 1330.5 1860 1330.2 1856 1330 1852 1329.8 1848 1329.6 1844 1329.4 1840 1329.1 1836 1328.9 1832 1328.7 1828 1328.4 1824 1328.2 1820 1327.9 1816 1327.7 1812 1327.4 1808 1327.1 1804 1326.8 1800 1326.5 1796 1326.2 1792 1325.8 1788 1325.4 1784 1325 1780 1324.6 1776 1324.2 1772 1323.7 1768 1323.3 1764 1322.7 1760 1322.2 1756 1321.6 1752 1321 1748 1320.4 1744 1319.8 1740 1319.1 1736 1318.3 1732 1317.6 1728 1316.8 1724 1315.9 1720 1315 1716 1314.1 1712 1313.1 1708 1312.1 1704 1311.1 1700 1310 1696 1308.8 1692 1307.6 1688 1306.4 1684 1305.1 1680 1303.7 1676 1302.3 1672 1300.9 1668 1299.4 1664 1297.8 1660 1296.2 1656 1294.5 1652 1292.7 1648 1290.9 1644 1289 1640 1287.1 1636 1285.1 1632 1283 1628 1280.8 1624 1278.6 1620 1276.3 1616 1274 1612 1271.5 1608 1269 1604 1266.5 1600 1263.8 1596 1261.1 1592 1258.3 1588 1255.5 1584 1252.5 1580 1249.5 1576 1246.5 1572 1243.4 1568 1240.2 1564 1236.9 1560 1233.6 1556 1230.2 1552 1226.8 1548 1223.3 1544 1219.7 1540 1216.1 1536 1212.4 1532 1208.7 1528 1204.9 1524 1201 1520 1197.1 1516 1193.1 1512 1189.1Z" fill="#0000ff" stroke="none"/>
<path d="M248 1324.6 252 1324.4 256 1324.2 260 1324 264 1323.7 268 1323.5 272 1323.3 276 1323.2 280 1323 284 1322.8 288 1322.6 292 1322.5 296 1322.3 300 1322.2 304 1322 308 1321.9 312 1321.8 316 1321.6 320 1321.5 324 1321.4 328 1321.3 332 1321.1 336 1321 340 1320.9 344 1320.8 348 1320.7 352 1320.5 356 1320.4 360 1320.3 364 1320.2 368 1320 372 1319.9 376 1319.8 380 1319.6 384 1319.5 388 1319.3 392 1319.2 396 1319 400 1318.8 404 1318.6 408 1318.4 412 1318.3 416 1318 420 1317.8 424 1317.6 428 1317.4 432 1317.1 436 1316.9 440 1316.6 444 1316.3 448 1316 452 1315.7 456 1315.4 460 1315.1 464 1314.7 468 1314.4 472 1314 476 1313.6 480 1313.2 484 1312.8 488 1312.3 492 1311.9 496 1311.4 500 1310.9 504 1310.3 508 1309.8 512 1309.2 516 1308.7 520 1308.1 524 1307.4 528 1306.8 532 1306.1 536 1305.4 540 1304.7 544 1304 548 1303.2 552 1302.4 556 1301.6 560 1300.7 564 1299.9 568 1299 572 1298.1 576 1297.1 580 1296.1 584 1295.1 588 1294.1 592 1293 596 1291.9 600 1290.8 604 1289.6 608 1288.4 612 1287.2 616 1285.9 620 1284.6 624 1283.3 628 1281.9 632 1280.5 636 1279.1 640 1277.6 644 1276.1 648 1274.6 652 1273 656 1271.4 660 1269.7 664 1268 668 1266.3 672 1264.5 676 1262.7 680 1260.8 684 1258.9 688 1257 692 1255 696 1253 700 1250.9 704 1248.8 708 1246.6 712 1244.4 716 1242.2 720 1239.9 724 1237.6 728 1235.2 732 1232.7 736 1230.3 740 1227.7 744 1225.2 748 1222.5 752 1219.9 756 1217.1 760 1214.3 764 1211.5 768 1208.6 772 1205.7 776 1202.7 780 1199.7 784 1196.6 788 1193.5 792 1190.2 796 1186.7 800 1183 804 1178.9 804 1183.4 800 1187.5 796 1191.2 792 1194.7 788 1198 784 1201.1 780 1204.2 776 1207.2 772 1210.2 768 1213.1 764 1216 760 1218.8 756 1221.6 752 1224.4 748 1227 744 1229.7 740 1232.2 736 1234.8 732 1237.2 728 1239.7 724 1242.1 720 1244.4 716 1246.7 712 1248.9 708 1251.1 704 1253.3 700 1255.4 696 1257.5 692 1259.5 688 1261.5 684 1263.4 680 1265.3 676 1267.2 672 1269 668 1270.8 664 1272.5 660 1274.2 656 1275.9 652 1277.5 648 1279.1 644 1280.6 640 1282.1 636 1283.6 632 1285 628 1286.4 624 1287.8 620 1289.1 616 1290.4 612 1291.7 608 1292.9 604 1294.1 600 1295.3 596 1296.4 592 1297.5 588 1298.6 584 1299.6 580 1300.6 576 1301.6 572 1302.6 568 1303.5 564 1304.4 560 1305.2 556 1306.1 552 1306.9 548 1307.7 544 1308.5 540 1309.2 536 1309.9 532 1310.6 528 1311.3 524 1311.9 520 1312.6 516 1313.2 512 1313.7 508 1314.3 504 1314.8 500 1315.4 496 1315.9 492 1316.4 488 1316.8 484 1317.3 480 1317.7 476 1318.1 472 1318.5 468 1318.9 464 1319.2 460 1319.6 456 1319.9 452 1320.2 448 1320.5 444 1320.8 440 1321.1 436 1321.4 432 1321.6 428 1321.9 424 1322.1 420 1322.3 416 1322.5 412 1322.8 408 1322.9 404 1323.1 400 1323.3 396 1323.5 392 1323.7 388 1323.8 384 1324 380 1324.1 376 1324.3 372 1324.4 368 1324.5 364 1324.7 360 1324.8 356 1324.9 352 1325 348 1325.2 344 1325.3 340 1325.4 336 1325.5 332 1325.6 328 1325.8 324 1325.9 320 1326 316 1326.1 312 1326.3 308 1326.4 304 1326.5 300 1326.7 296 1326.8 292 1327 288 1327.1 284 1327.3 280 1327.5 276 1327.7 272 1327.8 268 1328 264 1328.2 260 1328.5 256 1328.7 252 1328.9 248 1329.1ZM793.8 1189 797.8 1185.3 801.8 1181.2 805.8 1176.7 809.8 1171.6 813.8 1166 817.8 1159.8 821.8 1152.8 825.8 1145 829.8 1136.2 833.8 1126.6 837.8 1116.3 841.8 1105.7 845.8 1095.1 849.8 1084.7 853.8 1074.9 857.8 1065.9 861.8 1057.3 865.8 1049 869.8 1040.8 873.8 1032.4 877.8 1024 881.8 1015.4 885.8 1006.7 889.8 997.8 893.8 989 897.8 980 901.8 971.1 905.8 962.1 909.8 953.1 913.8 944.1 917.8 935.2 921.8 926.2 925.8 917.3 929.8 908.3 933.8 899.3 937.8 890.3 941.8 881.3 945.8 872.2 949.8 863.1 953.8 853.9 957.8 844.7 961.8 835.5 965.8 826.1 969.8 816.7 973.8 807.3 977.8 797.7 981.8 788.1 985.8 778.4 989.8 768.5 993.8 758.6 997.8 748.6 1001.8 738.4 1005.8 728.2 1009.8 717.8 1013.8 707.2 1017.8 696.6 1021.8 685.7 1025.8 674.7 1029.8 663.4 1033.8 651.9 1037.8 640.2 1041.8 628.2 1045.8 615.9 1049.8 603.3 1053.8 590.3 1057.8 577.1 1061.8 563.4 1065.8 549.3 1069.8 534.9 1073.8 520 1077.8 504.7 1081.8 488.9 1085.8 472.7 1089.8 456.5 1093.8 440.3 1097.8 424.4 1101.8 408.9 1105.8 394.1 1109.8 380.2 1113.8 367.4 1117.8 355.9 1121.8 345.8 1125.8 337.4 1129.8 330.9 1133.8 326.3 1137.8 323.4 1142.2 323.4 1138.2 326.3 1134.2 330.9 1130.2 337.4 1126.2 345.8 1122.2 355.9 1118.2 367.4 1114.2 380.2 1110.2 394.1 1106.2 408.9 1102.2 424.4 1098.2 440.3 1094.2 456.5 1090.2 472.7 1086.2 488.9 1082.2 504.7 1078.2 520 1074.2 534.9 1070.2 549.3 1066.2 563.4 1062.2 577.1 1058.2 590.3 1054.2 603.3 1050.2 615.9 1046.2 628.2 1042.2 640.2 1038.2 651.9 1034.2 663.4 1030.2 674.7 1026.2 685.7 1022.2 696.6 1018.2 707.2 1014.2 717.8 1010.2 728.2 1006.2 738.4 1002.2 748.6 998.2 758.6 994.2 768.5 990.2 778.4 986.2 788.1 982.2 797.7 978.2 807.3 974.2 816.7 970.2 826.1 966.2 835.5 962.2 844.7 958.2 853.9 954.2 863.1 950.2 872.2 946.2 881.3 942.2 890.3 938.2 899.3 934.2 908.3 930.2 917.3 926.2 926.2 922.2 935.2 918.2 944.1 914.2 953.1 910.2 962.1 906.2 971.1 902.2 980 898.2 989 894.2 997.8 890.2 1006.7 886.2 1015.4 882.2 1024 878.2 1032.4 874.2 1040.8 870.2 1049 866.2 1057.3 862.2 1065.9 858.2 1074.9 854.2 1084.7 850.2 1095.1 846.2 1105.7 842.2 1116.3 838.2 1126.6 834.2 1136.2 830.2 1145 826.2 1152.8 822.2 1159.8 818.2 1166 814.2 1171.6 810.2 1176.7 806.2 1181.2 802.2 1185.3 798.2 1189ZM1132 328.6 1136 324.1 1140 321.2 1144 319.6 1148 319.1 1152 319.4 1156 320.1 1160 321 1164 322.1 1168 323.5 1172 325.1 1176 327.1 1180 329.4 1184 332.2 1188 335.4 1192 339.2 1196 343.5 1196 348 1192 343.7 1188 339.9 1184 336.7 1180 333.9 1176 331.6 1172 329.6 1168 328 1164 326.6 1160 325.5 1156 324.6 1152 323.9 1148 323.6 1144 324.1 1140 325.7 1136 328.6 1132 333.1ZM1190.2 337.7 1194.2 341.4 1198.2 345.8 1202.2 350.8 1206.2 356.4 1210.2 362.9 1214.2 370.1 1218.2 378.2 1222.2 387.2 1226.2 397 1230.2 407.4 1234.2 418.4 1238.2 429.7 1242.2 441.5 1246.2 453.6 1250.2 466.1 1254.2 479 1258.2 492.3 1262.2 505.9 1266.2 519.8 1270.2 534.1 1274.2 548.7 1278.2 563.7 1282.2 578.9 1286.2 594.5 1290.2 610.4 1294.2 626.5 1298.2 642.9 1302.2 659.5 1306.2 676.2 1310.2 693 1314.2 709.9 1318.2 726.8 1322.2 743.7 1326.2 760.5 1330.2 777.2 1334.2 793.7 1338.2 810.1 1342.2 826.2 1346.2 842.1 1350.2 857.6 1354.2 872.8 1358.2 887.6 1362.2 901.9 1366.2 915.7 1370.2 929 1374.2 941.7 1378.2 953.8 1382.2 965.3 1386.2 976 1390.2 986 1394.2 995.4 1398.2 1004 1402.2 1012.1 1406.2 1019.7 1410.2 1026.8 1414.2 1033.4 1418.2 1039.7 1422.2 1045.6 1426.2 1051.2 1430.2 1056.6 1434.2 1061.8 1438.2 1066.9 1442.2 1071.9 1446.2 1076.8 1450.2 1081.8 1454.2 1086.8 1458.2 1091.9 1462.2 1097 1466.2 1102.1 1470.2 1107.2 1474.2 1112.4 1478.2 1117.5 1482.2 1122.7 1486.2 1127.8 1490.2 1133 1494.2 1138.1 1498.2 1143.1 1502.2 1148.2 1506.2 1153.1 1510.2 1158.1 1514.2 1163 1518.2 1167.8 1522.2 1172.5 1526.2 1177.2 1530.2 1181.8 1534.2 1186.3 1538.2 1190.7 1542.2 1195.1 1546.2 1199.3 1550.2 1203.5 1554.2 1207.6 1558.2 1211.7 1562.2 1215.6 1557.8 1215.6 1553.8 1211.7 1549.8 1207.6 1545.8 1203.5 1541.8 1199.3 1537.8 1195.1 1533.8 1190.7 1529.8 1186.3 1525.8 1181.8 1521.8 1177.2 1517.8 1172.5 1513.8 1167.8 1509.8 1163 1505.8 1158.1 1501.8 1153.1 1497.8 1148.2 1493.8 1143.1 1489.8 1138.1 1485.8 1133 1481.8 1127.8 1477.8 1122.7 1473.8 1117.5 1469.8 1112.4 1465.8 1107.2 1461.8 1102.1 1457.8 1097 1453.8 1091.9 1449.8 1086.8 1445.8 1081.8 1441.8 1076.8 1437.8 1071.9 1433.8 1066.9 1429.8 1061.8 1425.8 1056.6 1421.8 1051.2 1417.8 1045.6 1413.8 1039.7 1409.8 1033.4 1405.8 1026.8 1401.8 1019.7 1397.8 1012.1 1393.8 1004 1389.8 995.4 1385.8 986 1381.8 976 1377.8 965.3 1373.8 953.8 1369.8 941.7 1365.8 929 1361.8 915.7 1357.8 901.9 1353.8 887.6 1349.8 872.8 1345.8 857.6 1341.8 842.1 1337.8 826.2 1333.8 810.1 1329.8 793.7 1325.8 777.2 1321.8 760.5 1317.8 743.7 1313.8 726.8 1309.8 709.9 1305.8 693 1301.8 676.2 1297.8 659.5 1293.8 642.9 1289.8 626.5 1285.8 610.4 1281.8 594.5 1277.8 578.9 1273.8 563.7 1269.8 548.7 1265.8 534.1 1261.8 519.8 1257.8 505.9 1253.8 492.3 1249.8 479 1245.8 466.1 1241.8 453.6 1237.8 441.5 1233.8 429.7 1229.8 418.4 1225.8 407.4 1221.8 397 1217.8 387.2 1213.8 378.2 1209.8 370.1 1205.8 362.9 1201.8 356.4 1197.8 350.8 1193.8 345.8 1189.8 341.4 1185.8 337.7ZM1552 1205.4 1556 1209.4 1560 1213.4 1564 1217.2 1568 1221 1572 1224.7 1576 1228.3 1580 1231.9 1584 1235.3 1588 1238.7 1592 1242 1596 1245.2 1600 1248.3 1604 1251.3 1608 1254.3 1612 1257.2 1616 1260 1620 1262.7 1624 1265.3 1628 1267.8 1632 1270.3 1636 1272.7 1640 1275 1644 1277.2 1648 1279.3 1652 1281.4 1656 1283.4 1660 1285.3 1664 1287.1 1668 1288.9 1672 1290.6 1676 1292.2 1680 1293.8 1684 1295.3 1688 1296.8 1692 1298.1 1696 1299.5 1700 1300.7 1704 1301.9 1708 1303.1 1712 1304.2 1716 1305.2 1720 1306.2 1724 1307.2 1728 1308.1 1732 1309 1736 1309.8 1740 1310.6 1744 1311.3 1748 1312 1752 1312.7 1756 1313.3 1760 1313.9 1764 1314.4 1768 1315 1772 1315.5 1776 1315.9 1780 1316.4 1784 1316.8 1788 1317.2 1792 1317.6 1796 1317.9 1800 1318.3 1804 1318.6 1808 1318.9 1812 1319.2 1816 1319.4 1820 1319.7 1824 1320 1828 1320.2 1832 1320.5 1836 1320.7 1840 1321 1844 1321.2 1848 1321.4 1852 1321.7 1856 1321.9 1860 1322.2 1864 1322.4 1868 1322.7 1872 1323 1876 1323.2 1880 1323.5 1884 1323.8 1888 1324.1 1892 1324.4 1896 1324.7 1900 1325 1904 1325.2 1908 1325.5 1912 1325.8 1916 1326.1 1920 1326.4 1924 1326.6 1928 1326.9 1932 1327.2 1936 1327.4 1940 1327.7 1944 1327.9 1948 1328.1 1952 1328.3 1956 1328.5 1960 1328.7 1964 1328.9 1968 1329 1972 1329.2 1976 1329.3 1980 1329.4 1984 1329.5 1988 1329.6 1992 1329.6 1996 1329.6 2000 1329.6 2004 1329.6 2008 1329.6 2012 1329.5 2016 1329.4 2020 1329.3 2024 1329.1 2028 1329 2032 1328.8 2036 1328.5 2038 1328.5 2038 1333 2036 1333 2032 1333.3 2028 1333.5 2024 1333.6 2020 1333.8 2016 1333.9 2012 1334 2008 1334.1 2004 1334.1 2000 1334.1 1996 1334.1 1992 1334.1 1988 1334.1 1984 1334 1980 1333.9 1976 1333.8 1972 1333.7 1968 1333.5 1964 1333.4 1960 1333.2 1956 1333 1952 1332.8 1948 1332.6 1944 1332.4 1940 1332.2 1936 1331.9 1932 1331.7 1928 1331.4 1924 1331.1 1920 1330.9 1916 1330.6 1912 1330.3 1908 1330 1904 1329.7 1900 1329.5 1896 1329.2 1892 1328.9 1888 1328.6 1884 1328.3 1880 1328 1876 1327.7 1872 1327.5 1868 1327.2 1864 1326.9 1860 1326.7 1856 1326.4 1852 1326.2 1848 1325.9 1844 1325.7 1840 1325.5 1836 1325.2 1832 1325 1828 1324.7 1824 1324.5 1820 1324.2 1816 1323.9 1812 1323.7 1808 1323.4 1804 1323.1 1800 1322.8 1796 1322.4 1792 1322.1 1788 1321.7 1784 1321.3 1780 1320.9 1776 1320.4 1772 1320 1768 1319.5 1764 1318.9 1760 1318.4 1756 1317.8 1752 1317.2 1748 1316.5 1744 1315.8 1740 1315.1 1736 1314.3 1732 1313.5 1728 1312.6 1724 1311.7 1720 1310.7 1716 1309.7 1712 1308.7 1708 1307.6 1704 1306.4 1700 1305.2 1696 1304 1692 1302.6 1688 1301.3 1684 1299.8 1680 1298.3 1676 1296.7 1672 1295.1 1668 1293.4 1664 1291.6 1660 1289.8 1656 1287.9 1652 1285.9 1648 1283.8 1644 1281.7 1640 1279.5 1636 1277.2 1632 1274.8 1628 1272.3 1624 1269.8 1620 1267.2 1616 1264.5 1612 1261.7 1608 1258.8 1604 1255.8 1600 1252.8 1596 1249.7 1592 1246.5 1588 1243.2 1584 1239.8 1580 1236.4 1576 1232.8 1572 1229.2 1568 1225.5 1564 1221.7 1560 1217.9 1556 1213.9 1552 1209.9Z" fill="#00ffff" stroke="none"/>
<path d="M248 1320.8 252 1320.6 256 1320.4 260 1320.2 264 1320 268 1319.8 272 1319.7 276 1319.5 280 1319.4 284 1319.2 288 1319.1 292 1319 296 1318.8 300 1318.7 304 1318.6 308 1318.5 312 1318.5 316 1318.4 320 1318.3 324 1318.2 328 1318.2 332 1318.1 336 1318.1 340 1318 344 1318 348 1318 352 1317.9 356 1317.9 360 1317.9 364 1317.8 368 1317.8 372 1317.8 376 1317.8 380 1317.7 384 1317.7 388 1317.7 392 1317.7 396 1317.7 400 1317.6 404 1317.6 408 1317.6 412 1317.6 416 1317.5 420 1317.5 424 1317.5 428 1317.4 432 1317.4 436 1317.4 440 1317.3 444 1317.3 448 1317.2 452 1317.1 456 1317.1 460 1317 464 1316.9 468 1316.8 472 1316.7 476 1316.6 480 1316.5 484 1316.4 488 1316.3 492 1316.1 496 1316 500 1315.8 504 1315.7 508 1315.5 512 1315.3 516 1315.1 520 1314.9 524 1314.7 528 1314.4 532 1314.2 536 1313.9 540 1313.7 544 1313.4 548 1313.1 552 1312.8 556 1312.4 560 1312.1 564 1311.7 568 1311.4 572 1311 576 1310.6 580 1310.2 584 1309.7 588 1309.3 592 1308.8 596 1308.3 600 1307.8 604 1307.3 608 1306.7 612 1306.1 616 1305.6 620 1304.9 624 1304.3 628 1303.6 632 1303 636 1302.2 640 1301.5 644 1300.7 648 1299.9 652 1299 656 1298.1 660 1297.2 664 1296.2 668 1295.2 672 1294.1 676 1292.9 680 1291.8 684 1290.5 688 1289.2 692 1287.9 696 1286.5 700 1285 704 1283.4 708 1281.8 712 1280.2 716 1278.4 720 1276.6 724 1274.7 728 1272.8 732 1270.7 736 1268.6 740 1266.4 744 1264.1 748 1261.7 752 1259.3 756 1256.7 760 1254.1 764 1251.3 768 1248.5 772 1245.6 776 1242.5 780 1239.4 784 1236.2 788 1232.8 792 1229.4 796 1225.8 800 1222.1 804 1218.3 808 1214.4 812 1210.4 812 1214.9 808 1218.9 804 1222.8 800 1226.6 796 1230.3 792 1233.9 788 1237.3 784 1240.7 780 1243.9 776 1247 772 1250.1 768 1253 764 1255.8 760 1258.6 756 1261.2 752 1263.8 748 1266.2 744 1268.6 740 1270.9 736 1273.1 732 1275.2 728 1277.3 724 1279.2 720 1281.1 716 1282.9 712 1284.7 708 1286.3 704 1287.9 700 1289.5 696 1291 692 1292.4 688 1293.7 684 1295 680 1296.3 676 1297.4 672 1298.6 668 1299.7 664 1300.7 660 1301.7 656 1302.6 652 1303.5 648 1304.4 644 1305.2 640 1306 636 1306.7 632 1307.5 628 1308.1 624 1308.8 620 1309.4 616 1310.1 612 1310.6 608 1311.2 604 1311.8 600 1312.3 596 1312.8 592 1313.3 588 1313.8 584 1314.2 580 1314.7 576 1315.1 572 1315.5 568 1315.9 564 1316.2 560 1316.6 556 1316.9 552 1317.3 548 1317.6 544 1317.9 540 1318.2 536 1318.4 532 1318.7 528 1318.9 524 1319.2 520 1319.4 516 1319.6 512 1319.8 508 1320 504 1320.2 500 1320.3 496 1320.5 492 1320.6 488 1320.8 484 1320.9 480 1321 476 1321.1 472 1321.2 468 1321.3 464 1321.4 460 1321.5 456 1321.6 452 1321.6 448 1321.7 444 1321.8 440 1321.8 436 1321.9 432 1321.9 428 1321.9 424 1322 420 1322 416 1322 412 1322.1 408 1322.1 404 1322.1 400 1322.1 396 1322.2 392 1322.2 388 1322.2 384 1322.2 380 1322.2 376 1322.3 372 1322.3 368 1322.3 364 1322.3 360 1322.4 356 1322.4 352 1322.4 348 1322.5 344 1322.5 340 1322.5 336 1322.6 332 1322.6 328 1322.7 324 1322.7 320 1322.8 316 1322.9 312 1323 308 1323 304 1323.1 300 1323.2 296 1323.3 292 1323.5 288 1323.6 284 1323.7 280 1323.9 276 1324 272 1324.2 268 1324.3 264 1324.5 260 1324.7 256 1324.9 252 1325.1 248 1325.3ZM801.8 1220.6 805.8 1216.7 809.8 1212.7 813.8 1208.4 817.8 1204 821.8 1199.4 825.8 1194.4 829.8 1189.2 833.8 1183.6 837.8 1177.7 841.8 1171.3 845.8 1164.5 849.8 1157.3 853.8 1149.5 857.8 1141.3 861.8 1132.8 865.8 1124.1 869.8 1115.4 873.8 1106.8 877.8 1098.6 881.8 1090.6 885.8 1082.8 889.8 1075.2 893.8 1067.5 897.8 1059.6 901.8 1051.6 905.8 1043.3 909.8 1034.9 913.8 1026.3 917.8 1017.7 921.8 1008.9 925.8 1000.1 929.8 991.3 933.8 982.5 937.8 973.8 941.8 965.1 945.8 956.5 949.8 947.9 953.8 939.3 957.8 930.7 961.8 922 965.8 913.3 969.8 904.6 973.8 895.8 977.8 886.8 981.8 877.8 985.8 868.6 989.8 859.2 993.8 849.7 997.8 840 1001.8 830.1 1005.8 820 1009.8 809.6 1013.8 799 1017.8 788.1 1021.8 776.9 1025.8 765.4 1029.8 753.5 1033.8 741.4 1037.8 728.9 1041.8 716.1 1045.8 703.1 1049.8 689.9 1053.8 676.5 1057.8 662.9 1061.8 649.1 1065.8 635.3 1069.8 621.3 1073.8 607.2 1077.8 593.1 1081.8 578.9 1085.8 564.8 1089.8 550.6 1093.8 536.6 1097.8 523 1101.8 509.9 1105.8 497.5 1109.8 486.1 1113.8 475.9 1117.8 466.9 1121.8 459.3 1125.8 452.8 1129.8 447 1133.8 441.9 1137.8 437.1 1141.8 432.6 1145.8 428.3 1149.8 424.2 1153.8 420.3 1158.2 420.3 1154.2 424.2 1150.2 428.3 1146.2 432.6 1142.2 437.1 1138.2 441.9 1134.2 447 1130.2 452.8 1126.2 459.3 1122.2 466.9 1118.2 475.9 1114.2 486.1 1110.2 497.5 1106.2 509.9 1102.2 523 1098.2 536.6 1094.2 550.6 1090.2 564.8 1086.2 578.9 1082.2 593.1 1078.2 607.2 1074.2 621.3 1070.2 635.3 1066.2 649.1 1062.2 662.9 1058.2 676.5 1054.2 689.9 1050.2 703.1 1046.2 716.1 1042.2 728.9 1038.2 741.4 1034.2 753.5 1030.2 765.4 1026.2 776.9 1022.2 788.1 1018.2 799 1014.2 809.6 1010.2 820 1006.2 830.1 1002.2 840 998.2 849.7 994.2 859.2 990.2 868.6 986.2 877.8 982.2 886.8 978.2 895.8 974.2 904.6 970.2 913.3 966.2 922 962.2 930.7 958.2 939.3 954.2 947.9 950.2 956.5 946.2 965.1 942.2 973.8 938.2 982.5 934.2 991.3 930.2 1000.1 926.2 1008.9 922.2 1017.7 918.2 1026.3 914.2 1034.9 910.2 1043.3 906.2 1051.6 902.2 1059.6 898.2 1067.5 894.2 1075.2 890.2 1082.8 886.2 1090.6 882.2 1098.6 878.2 1106.8 874.2 1115.4 870.2 1124.1 866.2 1132.8 862.2 1141.3 858.2 1149.5 854.2 1157.3 850.2 1164.5 846.2 1171.3 842.2 1177.7 838.2 1183.6 834.2 1189.2 830.2 1194.4 826.2 1199.4 822.2 1204 818.2 1208.4 814.2 1212.7 810.2 1216.7 806.2 1220.6ZM1148 426 1152 421.9 1156 418.1 1160 414.4 1164 411.1 1168 407.9 1172 405.1 1176 402.5 1180 400.4 1184 398.6 1188 397.2 1192 396.4 1196 396.1 1200 396.3 1204 397.2 1208 398.8 1212 401.1 1216 404.2 1220 408.1 1224 412.8 1224 417.3 1220 412.6 1216 408.7 1212 405.6 1208 403.3 1204 401.7 1200 400.8 1196 400.6 1192 400.9 1188 401.7 1184 403.1 1180 404.9 1176 407 1172 409.6 1168 412.4 1164 415.6 1160 418.9 1156 422.6 1152 426.4 1148 430.5ZM1218.2 406.4 1222.2 410.3 1226.2 415.1 1230.2 420.7 1234.2 427.1 1238.2 434.2 1242.2 442.1 1246.2 450.7 1250.2 460 1254.2 470 1258.2 480.5 1262.2 491.6 1266.2 503.2 1270.2 515.3 1274.2 527.9 1278.2 540.9 1282.2 554.3 1286.2 568.1 1290.2 582.2 1294.2 596.6 1298.2 611.3 1302.2 626.2 1306.2 641.3 1310.2 656.5 1314.2 671.8 1318.2 687.3 1322.2 702.8 1326.2 718.3 1330.2 733.8 1334.2 749.3 1338.2 764.6 1342.2 779.9 1346.2 795 1350.2 809.9 1354.2 824.6 1358.2 839 1362.2 853 1366.2 866.7 1370.2 879.9 1374.2 892.7 1378.2 904.9 1382.2 916.6 1386.2 927.7 1390.2 938.3 1394.2 948.4 1398.2 958.1 1402.2 967.4 1406.2 976.3 1410.2 984.8 1414.2 993 1418.2 1000.9 1422.2 1008.5 1426.2 1015.9 1430.2 1023.1 1434.2 1030 1438.2 1036.8 1442.2 1043.3 1446.2 1049.7 1450.2 1055.9 1454.2 1062 1458.2 1067.9 1462.2 1073.7 1466.2 1079.5 1470.2 1085.2 1474.2 1090.8 1478.2 1096.3 1482.2 1101.9 1486.2 1107.3 1490.2 1112.7 1494.2 1118.1 1498.2 1123.4 1502.2 1128.7 1506.2 1133.9 1510.2 1139 1514.2 1144.1 1518.2 1149.1 1522.2 1154.1 1526.2 1159 1530.2 1163.8 1534.2 1168.6 1538.2 1173.3 1542.2 1177.9 1546.2 1182.5 1550.2 1187 1554.2 1191.4 1558.2 1195.8 1562.2 1200.1 1566.2 1204.3 1570.2 1208.4 1574.2 1212.5 1578.2 1216.5 1573.8 1216.5 1569.8 1212.5 1565.8 1208.4 1561.8 1204.3 1557.8 1200.1 1553.8 1195.8 1549.8 1191.4 1545.8 1187 1541.8 1182.5 1537.8 1177.9 1533.8 1173.3 1529.8 1168.6 1525.8 1163.8 1521.8 1159 1517.8 1154.1 1513.8 1149.1 1509.8 1144.1 1505.8 1139 1501.8 1133.9 1497.8 1128.7 1493.8 1123.4 1489.8 1118.1 1485.8 1112.7 1481.8 1107.3 1477.8 1101.9 1473.8 1096.3 1469.8 1090.8 1465.8 1085.2 1461.8 1079.5 1457.8 1073.7 1453.8 1067.9 1449.8 1062 1445.8 1055.9 1441.8 1049.7 1437.8 1043.3 1433.8 1036.8 1429.8 1030 1425.8 1023.1 1421.8 1015.9 1417.8 1008.5 1413.8 1000.9 1409.8 993 1405.8 984.8 1401.8 976.3 1397.8 967.4 1393.8 958.1 1389.8 948.4 1385.8 938.3 1381.8 927.7 1377.8 916.6 1373.8 904.9 1369.8 892.7 1365.8 879.9 1361.8 866.7 1357.8 853 1353.8 839 1349.8 824.6 1345.8 809.9 1341.8 795 1337.8 779.9 1333.8 764.6 1329.8 749.3 1325.8 733.8 1321.8 718.3 1317.8 702.8 1313.8 687.3 1309.8 671.8 1305.8 656.5 1301.8 641.3 1297.8 626.2 1293.8 611.3 1289.8 596.6 1285.8 582.2 1281.8 568.1 1277.8 554.3 1273.8 540.9 1269.8 527.9 1265.8 515.3 1261.8 503.2 1257.8 491.6 1253.8 480.5 1249.8 470 1245.8 460 1241.8 450.7 1237.8 442.1 1233.8 434.2 1229.8 427.1 1225.8 420.7 1221.8 415.1 1217.8 410.3 1213.8 406.4ZM1568 1206.2 1572 1210.3 1576 1214.2 1580 1218.2 1584 1222 1588 1225.7 1592 1229.4 1596 1233 1600 1236.5 1604 1239.9 1608 1243.2 1612 1246.5 1616 1249.6 1620 1252.7 1624 1255.6 1628 1258.5 1632 1261.3 1636 1264 1640 1266.6 1644 1269.1 1648 1271.5 1652 1273.8 1656 1276 1660 1278.1 1664 1280.1 1668 1282.1 1672 1284 1676 1285.8 1680 1287.5 1684 1289.1 1688 1290.7 1692 1292.1 1696 1293.6 1700 1294.9 1704 1296.2 1708 1297.4 1712 1298.6 1716 1299.7 1720 1300.7 1724 1301.7 1728 1302.6 1732 1303.5 1736 1304.3 1740 1305.1 1744 1305.9 1748 1306.6 1752 1307.2 1756 1307.8 1760 1308.4 1764 1308.9 1768 1309.4 1772 1309.9 1776 1310.4 1780 1310.8 1784 1311.2 1788 1311.6 1792 1311.9 1796 1312.3 1800 1312.6 1804 1312.9 1808 1313.2 1812 1313.5 1816 1313.7 1820 1314 1824 1314.3 1828 1314.6 1832 1314.8 1836 1315.1 1840 1315.4 1844 1315.6 1848 1315.9 1852 1316.2 1856 1316.5 1860 1316.9 1864 1317.2 1868 1317.6 1872 1318 1876 1318.3 1880 1318.8 1884 1319.2 1888 1319.6 1892 1320 1896 1320.5 1900 1321 1904 1321.4 1908 1321.9 1912 1322.4 1916 1322.8 1920 1323.3 1924 1323.8 1928 1324.2 1932 1324.7 1936 1325.2 1940 1325.6 1944 1326.1 1948 1326.5 1952 1327 1956 1327.4 1960 1327.8 1964 1328.2 1968 1328.6 1972 1328.9 1976 1329.3 1980 1329.6 1984 1329.9 1988 1330.2 1992 1330.5 1996 1330.7 2000 1330.9 2004 1331.1 2008 1331.3 2012 1331.4 2016 1331.5 2020 1331.6 2024 1331.6 2028 1331.6 2032 1331.6 2036 1331.5 2038 1331.5 2038 1336 2036 1336 2032 1336.1 2028 1336.1 2024 1336.1 2020 1336.1 2016 1336 2012 1335.9 2008 1335.8 2004 1335.6 2000 1335.4 1996 1335.2 1992 1335 1988 1334.7 1984 1334.4 1980 1334.1 1976 1333.8 1972 1333.4 1968 1333.1 1964 1332.7 1960 1332.3 1956 1331.9 1952 1331.5 1948 1331 1944 1330.6 1940 1330.1 1936 1329.7 1932 1329.2 1928 1328.7 1924 1328.3 1920 1327.8 1916 1327.3 1912 1326.9 1908 1326.4 1904 1325.9 1900 1325.5 1896 1325 1892 1324.5 1888 1324.1 1884 1323.7 1880 1323.3 1876 1322.8 1872 1322.5 1868 1322.1 1864 1321.7 1860 1321.4 1856 1321 1852 1320.7 1848 1320.4 1844 1320.1 1840 1319.9 1836 1319.6 1832 1319.3 1828 1319.1 1824 1318.8 1820 1318.5 1816 1318.2 1812 1318 1808 1317.7 1804 1317.4 1800 1317.1 1796 1316.8 1792 1316.4 1788 1316.1 1784 1315.7 1780 1315.3 1776 1314.9 1772 1314.4 1768 1313.9 1764 1313.4 1760 1312.9 1756 1312.3 1752 1311.7 1748 1311.1 1744 1310.4 1740 1309.6 1736 1308.8 1732 1308 1728 1307.1 1724 1306.2 1720 1305.2 1716 1304.2 1712 1303.1 1708 1301.9 1704 1300.7 1700 1299.4 1696 1298.1 1692 1296.6 1688 1295.2 1684 1293.6 1680 1292 1676 1290.3 1672 1288.5 1668 1286.6 1664 1284.6 1660 1282.6 1656 1280.5 1652 1278.3 1648 1276 1644 1273.6 1640 1271.1 1636 1268.5 1632 1265.8 1628 1263 1624 1260.1 1620 1257.2 1616 1254.1 1612 1251 1608 1247.7 1604 1244.4 1600 1241 1596 1237.5 1592 1233.9 1588 1230.2 1584 1226.5 1580 1222.7 1576 1218.7 1572 1214.8 1568 1210.7Z" fill="#ff00ff" stroke="none"/>
</g>
<g font-size="54" text-anchor="middle">
<text x="247.4" y="65.5">-8</text>
<text x="247.4" y="1502">-8</text>
<text x="545.3" y="65.5">-7</text>
<text x="545.3" y="1502">-7</text>
<text x="843.3" y="65.5">-6</text>
<text x="843.3" y="1502">-6</text>
<text x="1141.2" y="65.5">-5</text>
<text x="1141.2" y="1502">-5</text>
<text x="1439.1" y="65.5">-4</text>
<text x="1439.1" y="1502">-4</text>
<text x="1737.1" y="65.5">-3</text>
<text x="1737.1" y="1502">-3</text>
<text x="2035" y="65.5">-2</text>
<text x="2035" y="1502">-2</text>
</g>
<g font-size="54" text-anchor="end">
<text x="219" y="1351.5">1.0</text>
<text x="219" y="1162.4">1.1</text>
<text x="219" y="973.3">1.2</text>
<text x="219" y="784.2">1.3</text>
<text x="219" y="595.1">1.4</text>
<text x="219" y="406">1.5</text>
<text x="219" y="216.9">1.6</text>
</g>
<g font-size="54" text-anchor="start">
<text x="2064.5" y="1371.3">0.0</text>
<text x="2064.5" y="1224.2">0.1</text>
<text x="2064.5" y="1077.1">0.2</text>
<text x="2064.5" y="930.1">0.3</text>
<text x="2064.5" y="783">0.4</text>
<text x="2064.5" y="635.9">0.5</text>
<text x="2064.5" y="488.9">0.6</text>
<text x="2064.5" y="341.8">0.7</text>
<text x="2064.5" y="194.7">0.8</text>
</g>
<text x="1066" y="1609.5" font-size="65">log <tspan font-style="italic">C</tspan></text>
<text transform="translate(89.5 868.5) rotate(-90)" font-size="65.5">I<tspan dy="25.5" font-size="39">1</tspan><tspan dy="-25.5" font-size="65.5">/I</tspan><tspan dy="25.5" font-size="39">3</tspan></text>
<text transform="translate(2239.5 827) rotate(-90)" font-size="66.5">I<tspan dy="24.5" font-size="39.5">E</tspan><tspan dy="-24.5" font-size="66.5">/I</tspan><tspan dy="24.5" font-size="39.5">M</tspan></text>
<g stroke="#000" fill="none">
<path d="M845.5 517.3 H676 M1365 880.9 H1542" stroke-width="3.2"/>
<path d="M843.5 515.7 V700 M1367 882.5 V728" stroke-width="4"/>
</g>
<g fill="#000">
<polygon points="645,517.3 679,508.3 679,526.3"/>
<polygon points="843.5,734 834.5,700 852.5,700"/>
<polygon points="1367,697 1357.5,730.5 1376.5,730.5"/>
<polygon points="1576.5,880.9 1539,871.7 1539,890.1"/>
</g>
<rect x="1575" y="154.8" width="367.6" height="540" fill="#fff" stroke="#000" stroke-width="3.3"/>
<path d="M1598.5 227.3 H1649.5 M1698.5 227.3 H1750" stroke="#000000" stroke-width="4.5" fill="none"/>
<rect x="1660.9" y="214.6" width="25.4" height="25.4" fill="#000000"/>
<text x="1763.5" y="249.9" font-size="66">293K</text>
<path d="M1598.5 308.8 H1649.5 M1698.5 308.8 H1750" stroke="#ff0000" stroke-width="4.5" fill="none"/>
<circle cx="1673.6" cy="308.8" r="14" fill="#ff0000"/>
<text x="1763.5" y="331.4" font-size="66">298K</text>
<path d="M1598.5 390.2 H1649.5 M1698.5 390.2 H1750" stroke="#00ff00" stroke-width="4.5" fill="none"/>
<polygon points="1673.6,371.2 1691.6,401.7 1655.6,401.7" fill="#00ff00"/>
<text x="1763.5" y="412.8" font-size="66">303K</text>
<path d="M1598.5 471.7 H1649.5 M1698.5 471.7 H1750" stroke="#0000ff" stroke-width="4.5" fill="none"/>
<polygon points="1673.6,492.7 1691.6,461.7 1655.6,461.7" fill="#0000ff"/>
<text x="1763.5" y="494.3" font-size="66">308K</text>
<path d="M1598.5 553.1 H1649.5 M1698.5 553.1 H1750" stroke="#00ffff" stroke-width="4.5" fill="none"/>
<polygon points="1673.6,534.1 1692.6,553.1 1673.6,572.1 1654.6,553.1" fill="#00ffff"/>
<text x="1763.5" y="575.7" font-size="66">313K</text>
<path d="M1598.5 634.5 H1649.5 M1698.5 634.5 H1750" stroke="#ff00ff" stroke-width="4.5" fill="none"/>
<polygon points="1652.6,634.5 1684.1,616.5 1684.1,652.5" fill="#ff00ff"/>
<text x="1763.5" y="657.1" font-size="66">318K</text>
</svg></body></html>
